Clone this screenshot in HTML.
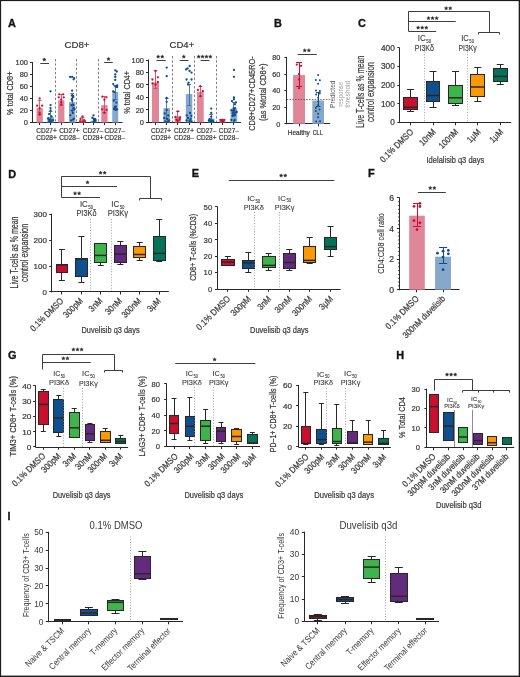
<!DOCTYPE html>
<html><head><meta charset="utf-8"><title>Figure</title>
<style>
html,body{margin:0;padding:0;background:#fff;}
body{width:520px;height:677px;overflow:hidden;}
svg{display:block;}
text{font-family:"Liberation Sans",sans-serif;fill:#3b3838;stroke:#3b3838;stroke-width:0.22px;}
svg{will-change:transform;}
</style></head>
<body>
<svg width="520" height="677" viewBox="0 0 520 677">
<rect width="520" height="677" fill="#fff"/>
<rect x="0" y="0" width="520" height="1.1" fill="#1c1a1a"/>
<rect x="0" y="0" width="1.1" height="677" fill="#1c1a1a"/>
<rect x="518.7" y="0" width="1.3" height="677" fill="#1c1a1a"/>
<rect x="0" y="675.6" width="520" height="1.4" fill="#1c1a1a"/>
<text x="7.9" y="27" font-size="10.9" font-weight="bold" style="fill:#151515;stroke:#151515;stroke-width:0.35px">A</text>
<text x="77" y="48.4" font-size="9.2" text-anchor="middle" textLength="25" lengthAdjust="spacingAndGlyphs">CD8+</text>
<line x1="32.5" y1="61.9" x2="32.5" y2="123" stroke="#2a2727" stroke-width="1" stroke-linecap="butt"/>
<line x1="30" y1="62.5" x2="32.2" y2="62.5" stroke="#2a2727" stroke-width="1" stroke-linecap="butt"/>
<text x="28" y="65.24" font-size="7.6" text-anchor="end" textLength="12.39" lengthAdjust="spacingAndGlyphs">100</text>
<line x1="30" y1="74.5" x2="32.2" y2="74.5" stroke="#2a2727" stroke-width="1" stroke-linecap="butt"/>
<text x="28" y="77.24" font-size="7.6" text-anchor="end" textLength="8.26" lengthAdjust="spacingAndGlyphs">80</text>
<line x1="30" y1="86.5" x2="32.2" y2="86.5" stroke="#2a2727" stroke-width="1" stroke-linecap="butt"/>
<text x="28" y="89.24" font-size="7.6" text-anchor="end" textLength="8.26" lengthAdjust="spacingAndGlyphs">60</text>
<line x1="30" y1="98.5" x2="32.2" y2="98.5" stroke="#2a2727" stroke-width="1" stroke-linecap="butt"/>
<text x="28" y="101.24" font-size="7.6" text-anchor="end" textLength="8.26" lengthAdjust="spacingAndGlyphs">40</text>
<line x1="30" y1="110.5" x2="32.2" y2="110.5" stroke="#2a2727" stroke-width="1" stroke-linecap="butt"/>
<text x="28" y="113.24" font-size="7.6" text-anchor="end" textLength="8.26" lengthAdjust="spacingAndGlyphs">20</text>
<line x1="30" y1="122.5" x2="32.2" y2="122.5" stroke="#2a2727" stroke-width="1" stroke-linecap="butt"/>
<text x="28" y="125.24" font-size="7.6" text-anchor="end" textLength="4.13" lengthAdjust="spacingAndGlyphs">0</text>
<text x="12.8" y="93.25" font-size="9.6" text-anchor="middle" transform="rotate(-90 12.8 93.25)" textLength="43.3" lengthAdjust="spacingAndGlyphs">% total CD8+</text>
<line x1="32.2" y1="122.5" x2="122.5" y2="122.5" stroke="#2a2727" stroke-width="1" stroke-linecap="butt"/>
<line x1="39.5" y1="122.5" x2="39.5" y2="125.1" stroke="#2a2727" stroke-width="1" stroke-linecap="butt"/>
<line x1="50.5" y1="122.5" x2="50.5" y2="125.1" stroke="#2a2727" stroke-width="1" stroke-linecap="butt"/>
<line x1="61.5" y1="122.5" x2="61.5" y2="125.1" stroke="#2a2727" stroke-width="1" stroke-linecap="butt"/>
<line x1="72.5" y1="122.5" x2="72.5" y2="125.1" stroke="#2a2727" stroke-width="1" stroke-linecap="butt"/>
<line x1="83.5" y1="122.5" x2="83.5" y2="125.1" stroke="#2a2727" stroke-width="1" stroke-linecap="butt"/>
<line x1="93.5" y1="122.5" x2="93.5" y2="125.1" stroke="#2a2727" stroke-width="1" stroke-linecap="butt"/>
<line x1="104.5" y1="122.5" x2="104.5" y2="125.1" stroke="#2a2727" stroke-width="1" stroke-linecap="butt"/>
<line x1="115.5" y1="122.5" x2="115.5" y2="125.1" stroke="#2a2727" stroke-width="1" stroke-linecap="butt"/>
<text x="181.9" y="48.4" font-size="9.2" text-anchor="middle" textLength="24.7" lengthAdjust="spacingAndGlyphs">CD4+</text>
<line x1="148.5" y1="59.5" x2="148.5" y2="122.8" stroke="#2a2727" stroke-width="1" stroke-linecap="butt"/>
<line x1="146" y1="60.5" x2="148.2" y2="60.5" stroke="#2a2727" stroke-width="1" stroke-linecap="butt"/>
<text x="144" y="62.74" font-size="7.6" text-anchor="end" textLength="12.39" lengthAdjust="spacingAndGlyphs">100</text>
<line x1="146" y1="72.5" x2="148.2" y2="72.5" stroke="#2a2727" stroke-width="1" stroke-linecap="butt"/>
<text x="144" y="75.2" font-size="7.6" text-anchor="end" textLength="8.26" lengthAdjust="spacingAndGlyphs">80</text>
<line x1="146" y1="84.5" x2="148.2" y2="84.5" stroke="#2a2727" stroke-width="1" stroke-linecap="butt"/>
<text x="144" y="87.66" font-size="7.6" text-anchor="end" textLength="8.26" lengthAdjust="spacingAndGlyphs">60</text>
<line x1="146" y1="97.5" x2="148.2" y2="97.5" stroke="#2a2727" stroke-width="1" stroke-linecap="butt"/>
<text x="144" y="100.12" font-size="7.6" text-anchor="end" textLength="8.26" lengthAdjust="spacingAndGlyphs">40</text>
<line x1="146" y1="109.5" x2="148.2" y2="109.5" stroke="#2a2727" stroke-width="1" stroke-linecap="butt"/>
<text x="144" y="112.58" font-size="7.6" text-anchor="end" textLength="8.26" lengthAdjust="spacingAndGlyphs">20</text>
<line x1="146" y1="122.5" x2="148.2" y2="122.5" stroke="#2a2727" stroke-width="1" stroke-linecap="butt"/>
<text x="144" y="125.04" font-size="7.6" text-anchor="end" textLength="4.13" lengthAdjust="spacingAndGlyphs">0</text>
<text x="129.9" y="92.3" font-size="9.6" text-anchor="middle" transform="rotate(-90 129.9 92.3)" textLength="42.8" lengthAdjust="spacingAndGlyphs">% total CD4+</text>
<line x1="148.2" y1="122.5" x2="241" y2="122.5" stroke="#2a2727" stroke-width="1" stroke-linecap="butt"/>
<line x1="155.5" y1="122.4" x2="155.5" y2="125" stroke="#2a2727" stroke-width="1" stroke-linecap="butt"/>
<line x1="166.5" y1="122.4" x2="166.5" y2="125" stroke="#2a2727" stroke-width="1" stroke-linecap="butt"/>
<line x1="177.5" y1="122.4" x2="177.5" y2="125" stroke="#2a2727" stroke-width="1" stroke-linecap="butt"/>
<line x1="189.5" y1="122.4" x2="189.5" y2="125" stroke="#2a2727" stroke-width="1" stroke-linecap="butt"/>
<line x1="200.5" y1="122.4" x2="200.5" y2="125" stroke="#2a2727" stroke-width="1" stroke-linecap="butt"/>
<line x1="211.5" y1="122.4" x2="211.5" y2="125" stroke="#2a2727" stroke-width="1" stroke-linecap="butt"/>
<line x1="222.5" y1="122.4" x2="222.5" y2="125" stroke="#2a2727" stroke-width="1" stroke-linecap="butt"/>
<line x1="233.5" y1="122.4" x2="233.5" y2="125" stroke="#2a2727" stroke-width="1" stroke-linecap="butt"/>
<rect x="36.5" y="108.1" width="6.3" height="14.4" fill="#e08699"/>
<line x1="39.5" y1="100.9" x2="39.5" y2="114.1" stroke="#d6485f" stroke-width="0.9" stroke-linecap="butt"/>
<line x1="37.75" y1="100.5" x2="41.55" y2="100.5" stroke="#d6485f" stroke-width="0.9" stroke-linecap="butt"/>
<line x1="37.75" y1="114.5" x2="41.55" y2="114.5" stroke="#d6485f" stroke-width="0.9" stroke-linecap="butt"/>
<circle cx="39.65" cy="98.5" r="1.15" fill="#c90f36"/>
<circle cx="37.15" cy="105.7" r="1.15" fill="#c90f36"/>
<circle cx="42.15" cy="105.7" r="1.15" fill="#c90f36"/>
<circle cx="39.65" cy="108.1" r="1.15" fill="#c90f36"/>
<circle cx="39.65" cy="112.9" r="1.15" fill="#c90f36"/>
<circle cx="39.65" cy="114.7" r="1.15" fill="#c90f36"/>
<rect x="47.3" y="117.1" width="6.5" height="5.4" fill="#86a8ca"/>
<line x1="50.5" y1="111.7" x2="50.5" y2="121.3" stroke="#3f6e9e" stroke-width="0.9" stroke-linecap="butt"/>
<line x1="48.65" y1="111.5" x2="52.45" y2="111.5" stroke="#3f6e9e" stroke-width="0.9" stroke-linecap="butt"/>
<line x1="48.65" y1="121.5" x2="52.45" y2="121.5" stroke="#3f6e9e" stroke-width="0.9" stroke-linecap="butt"/>
<circle cx="50.55" cy="91.3" r="1.15" fill="#0d4d8c"/>
<circle cx="50.55" cy="105.1" r="1.15" fill="#0d4d8c"/>
<circle cx="50.55" cy="108.1" r="1.15" fill="#0d4d8c"/>
<circle cx="50.55" cy="110.5" r="1.15" fill="#0d4d8c"/>
<circle cx="49.05" cy="114.1" r="1.15" fill="#0d4d8c"/>
<circle cx="51.55" cy="116.5" r="1.15" fill="#0d4d8c"/>
<circle cx="49.24" cy="119.89" r="1.15" fill="#0d4d8c"/>
<circle cx="49.9" cy="119.6" r="1.15" fill="#0d4d8c"/>
<circle cx="51.18" cy="122.19" r="1.15" fill="#0d4d8c"/>
<circle cx="48.12" cy="118.48" r="1.15" fill="#0d4d8c"/>
<circle cx="49.35" cy="121.38" r="1.15" fill="#0d4d8c"/>
<circle cx="53.03" cy="120.24" r="1.15" fill="#0d4d8c"/>
<circle cx="52.23" cy="120.21" r="1.15" fill="#0d4d8c"/>
<circle cx="51.25" cy="121.78" r="1.15" fill="#0d4d8c"/>
<rect x="58.1" y="100.3" width="6.3" height="22.2" fill="#e08699"/>
<line x1="61.5" y1="94.3" x2="61.5" y2="105.7" stroke="#d6485f" stroke-width="0.9" stroke-linecap="butt"/>
<line x1="59.35" y1="94.5" x2="63.15" y2="94.5" stroke="#d6485f" stroke-width="0.9" stroke-linecap="butt"/>
<line x1="59.35" y1="105.5" x2="63.15" y2="105.5" stroke="#d6485f" stroke-width="0.9" stroke-linecap="butt"/>
<circle cx="59.25" cy="94.3" r="1.15" fill="#c90f36"/>
<circle cx="63.25" cy="94.3" r="1.15" fill="#c90f36"/>
<circle cx="58.75" cy="97.3" r="1.15" fill="#c90f36"/>
<circle cx="63.75" cy="97.3" r="1.15" fill="#c90f36"/>
<circle cx="61.25" cy="99.7" r="1.15" fill="#c90f36"/>
<circle cx="61.25" cy="102.1" r="1.15" fill="#c90f36"/>
<circle cx="61.25" cy="104.5" r="1.15" fill="#c90f36"/>
<rect x="69" y="102.1" width="6.3" height="20.4" fill="#86a8ca"/>
<line x1="72.5" y1="93.1" x2="72.5" y2="110.5" stroke="#3f6e9e" stroke-width="0.9" stroke-linecap="butt"/>
<line x1="70.25" y1="93.5" x2="74.05" y2="93.5" stroke="#3f6e9e" stroke-width="0.9" stroke-linecap="butt"/>
<line x1="70.25" y1="110.5" x2="74.05" y2="110.5" stroke="#3f6e9e" stroke-width="0.9" stroke-linecap="butt"/>
<circle cx="70.15" cy="76.9" r="1.15" fill="#0d4d8c"/>
<circle cx="72.15" cy="76.9" r="1.15" fill="#0d4d8c"/>
<circle cx="74.15" cy="78.1" r="1.15" fill="#0d4d8c"/>
<circle cx="73.65" cy="79.3" r="1.15" fill="#0d4d8c"/>
<circle cx="72.15" cy="90.7" r="1.15" fill="#0d4d8c"/>
<circle cx="72.82" cy="97.34" r="1.15" fill="#0d4d8c"/>
<circle cx="72.27" cy="100.84" r="1.15" fill="#0d4d8c"/>
<circle cx="73.01" cy="119.53" r="1.15" fill="#0d4d8c"/>
<circle cx="73.44" cy="104.99" r="1.15" fill="#0d4d8c"/>
<circle cx="71.16" cy="120.44" r="1.15" fill="#0d4d8c"/>
<circle cx="73.98" cy="108.25" r="1.15" fill="#0d4d8c"/>
<circle cx="73.24" cy="97.04" r="1.15" fill="#0d4d8c"/>
<circle cx="73.22" cy="95.88" r="1.15" fill="#0d4d8c"/>
<circle cx="71.62" cy="99.19" r="1.15" fill="#0d4d8c"/>
<circle cx="71.87" cy="95.48" r="1.15" fill="#0d4d8c"/>
<circle cx="74.04" cy="118.61" r="1.15" fill="#0d4d8c"/>
<circle cx="70.33" cy="115.31" r="1.15" fill="#0d4d8c"/>
<circle cx="74.48" cy="109.26" r="1.15" fill="#0d4d8c"/>
<circle cx="72.78" cy="112.99" r="1.15" fill="#0d4d8c"/>
<circle cx="72.19" cy="110.65" r="1.15" fill="#0d4d8c"/>
<circle cx="71.4" cy="105.15" r="1.15" fill="#0d4d8c"/>
<rect x="79.4" y="120.1" width="6.3" height="2.4" fill="#e08699"/>
<line x1="82.5" y1="117.7" x2="82.5" y2="121.9" stroke="#d6485f" stroke-width="0.9" stroke-linecap="butt"/>
<line x1="80.65" y1="117.5" x2="84.45" y2="117.5" stroke="#d6485f" stroke-width="0.9" stroke-linecap="butt"/>
<line x1="80.65" y1="121.5" x2="84.45" y2="121.5" stroke="#d6485f" stroke-width="0.9" stroke-linecap="butt"/>
<circle cx="82.55" cy="116.5" r="1.15" fill="#c90f36"/>
<circle cx="80.55" cy="118.9" r="1.15" fill="#c90f36"/>
<circle cx="84.05" cy="120.1" r="1.15" fill="#c90f36"/>
<circle cx="80.05" cy="121.3" r="1.15" fill="#c90f36"/>
<circle cx="85.05" cy="121.3" r="1.15" fill="#c90f36"/>
<circle cx="82.55" cy="121.9" r="1.15" fill="#c90f36"/>
<rect x="90.5" y="120.7" width="6" height="1.8" fill="#86a8ca"/>
<line x1="93.5" y1="118.9" x2="93.5" y2="121.9" stroke="#3f6e9e" stroke-width="0.9" stroke-linecap="butt"/>
<line x1="91.6" y1="118.5" x2="95.4" y2="118.5" stroke="#3f6e9e" stroke-width="0.9" stroke-linecap="butt"/>
<line x1="91.6" y1="121.5" x2="95.4" y2="121.5" stroke="#3f6e9e" stroke-width="0.9" stroke-linecap="butt"/>
<circle cx="93.5" cy="115.3" r="1.15" fill="#0d4d8c"/>
<circle cx="92.5" cy="117.7" r="1.15" fill="#0d4d8c"/>
<circle cx="94.5" cy="118.9" r="1.15" fill="#0d4d8c"/>
<circle cx="93.92" cy="119.79" r="1.15" fill="#0d4d8c"/>
<circle cx="94.41" cy="119.71" r="1.15" fill="#0d4d8c"/>
<circle cx="95.28" cy="119.53" r="1.15" fill="#0d4d8c"/>
<circle cx="94.36" cy="122.01" r="1.15" fill="#0d4d8c"/>
<circle cx="95.3" cy="119.61" r="1.15" fill="#0d4d8c"/>
<circle cx="95.52" cy="120.79" r="1.15" fill="#0d4d8c"/>
<circle cx="94.57" cy="121.87" r="1.15" fill="#0d4d8c"/>
<circle cx="95.16" cy="120.78" r="1.15" fill="#0d4d8c"/>
<rect x="101.25" y="105.1" width="6.3" height="17.4" fill="#e08699"/>
<line x1="104.5" y1="96.7" x2="104.5" y2="112.3" stroke="#d6485f" stroke-width="0.9" stroke-linecap="butt"/>
<line x1="102.5" y1="96.5" x2="106.3" y2="96.5" stroke="#d6485f" stroke-width="0.9" stroke-linecap="butt"/>
<line x1="102.5" y1="112.5" x2="106.3" y2="112.5" stroke="#d6485f" stroke-width="0.9" stroke-linecap="butt"/>
<circle cx="102.4" cy="96.7" r="1.15" fill="#c90f36"/>
<circle cx="106.4" cy="97.3" r="1.15" fill="#c90f36"/>
<circle cx="104.4" cy="99.7" r="1.15" fill="#c90f36"/>
<circle cx="102.2" cy="109.3" r="1.15" fill="#c90f36"/>
<circle cx="106.6" cy="109.9" r="1.15" fill="#c90f36"/>
<circle cx="104.4" cy="112.9" r="1.15" fill="#c90f36"/>
<rect x="112.25" y="91.9" width="6" height="30.6" fill="#86a8ca"/>
<line x1="115.5" y1="85.3" x2="115.5" y2="99.7" stroke="#3f6e9e" stroke-width="0.9" stroke-linecap="butt"/>
<line x1="113.35" y1="85.5" x2="117.15" y2="85.5" stroke="#3f6e9e" stroke-width="0.9" stroke-linecap="butt"/>
<line x1="113.35" y1="99.5" x2="117.15" y2="99.5" stroke="#3f6e9e" stroke-width="0.9" stroke-linecap="butt"/>
<circle cx="115.25" cy="70.3" r="1.15" fill="#0d4d8c"/>
<circle cx="116.75" cy="71.5" r="1.15" fill="#0d4d8c"/>
<circle cx="115.25" cy="74.5" r="1.15" fill="#0d4d8c"/>
<circle cx="115.25" cy="76.9" r="1.15" fill="#0d4d8c"/>
<circle cx="115.25" cy="79.9" r="1.15" fill="#0d4d8c"/>
<circle cx="113.25" cy="84.1" r="1.15" fill="#0d4d8c"/>
<circle cx="117.25" cy="85.3" r="1.15" fill="#0d4d8c"/>
<circle cx="114.17" cy="108.98" r="1.15" fill="#0d4d8c"/>
<circle cx="117.02" cy="86.74" r="1.15" fill="#0d4d8c"/>
<circle cx="113.19" cy="91.29" r="1.15" fill="#0d4d8c"/>
<circle cx="114.8" cy="106.88" r="1.15" fill="#0d4d8c"/>
<circle cx="114.22" cy="92.05" r="1.15" fill="#0d4d8c"/>
<circle cx="117.11" cy="109.44" r="1.15" fill="#0d4d8c"/>
<circle cx="115.82" cy="109.42" r="1.15" fill="#0d4d8c"/>
<circle cx="116.34" cy="102.56" r="1.15" fill="#0d4d8c"/>
<circle cx="117.15" cy="86.96" r="1.15" fill="#0d4d8c"/>
<circle cx="115.28" cy="86.54" r="1.15" fill="#0d4d8c"/>
<circle cx="114.3" cy="108.65" r="1.15" fill="#0d4d8c"/>
<circle cx="115.75" cy="109.75" r="1.15" fill="#0d4d8c"/>
<circle cx="113.74" cy="100.71" r="1.15" fill="#0d4d8c"/>
<circle cx="115.8" cy="106.75" r="1.15" fill="#0d4d8c"/>
<line x1="55.5" y1="59" x2="55.5" y2="122" stroke="#6a6a6a" stroke-width="0.85" stroke-dasharray="2.4,1.9" stroke-linecap="butt"/>
<line x1="76.5" y1="59" x2="76.5" y2="122" stroke="#6a6a6a" stroke-width="0.85" stroke-dasharray="2.4,1.9" stroke-linecap="butt"/>
<line x1="98.5" y1="59" x2="98.5" y2="122" stroke="#6a6a6a" stroke-width="0.85" stroke-dasharray="2.4,1.9" stroke-linecap="butt"/>
<line x1="40.3" y1="63.5" x2="49" y2="63.5" stroke="#2a2727" stroke-width="0.9" stroke-linecap="butt"/>
<path d="M44.3 57.75L44.84 58.85L46.06 59.03L45.18 59.89L45.39 61.1L44.3 60.52L43.21 61.1L43.42 59.89L42.54 59.03L43.76 58.85Z" fill="#2e2b2b" stroke="#2e2b2b" stroke-width="0.35" stroke-linejoin="round"/>
<line x1="104.1" y1="62.5" x2="112.8" y2="62.5" stroke="#2a2727" stroke-width="0.9" stroke-linecap="butt"/>
<path d="M108.5 57.15L109.04 58.25L110.26 58.43L109.38 59.29L109.59 60.5L108.5 59.92L107.41 60.5L107.62 59.29L106.74 58.43L107.96 58.25Z" fill="#2e2b2b" stroke="#2e2b2b" stroke-width="0.35" stroke-linejoin="round"/>
<text x="46.5" y="132.8" font-size="6.9" text-anchor="middle" textLength="20.5" lengthAdjust="spacingAndGlyphs">CD27+</text>
<text x="46.5" y="140.4" font-size="6.9" text-anchor="middle" textLength="20.5" lengthAdjust="spacingAndGlyphs">CD28+</text>
<text x="69.4" y="132.8" font-size="6.9" text-anchor="middle" textLength="20.5" lengthAdjust="spacingAndGlyphs">CD27+</text>
<text x="69.4" y="140.4" font-size="6.9" text-anchor="middle" textLength="20.5" lengthAdjust="spacingAndGlyphs">CD28–</text>
<text x="93" y="132.8" font-size="6.9" text-anchor="middle" textLength="20.5" lengthAdjust="spacingAndGlyphs">CD27–</text>
<text x="93" y="140.4" font-size="6.9" text-anchor="middle" textLength="20.5" lengthAdjust="spacingAndGlyphs">CD28+</text>
<text x="114.8" y="132.8" font-size="6.9" text-anchor="middle" textLength="20.5" lengthAdjust="spacingAndGlyphs">CD27–</text>
<text x="114.8" y="140.4" font-size="6.9" text-anchor="middle" textLength="20.5" lengthAdjust="spacingAndGlyphs">CD28–</text>
<text x="161" y="132.8" font-size="6.9" text-anchor="middle" textLength="20" lengthAdjust="spacingAndGlyphs">CD27+</text>
<text x="161" y="140.2" font-size="6.9" text-anchor="middle" textLength="20" lengthAdjust="spacingAndGlyphs">CD28+</text>
<text x="183.9" y="132.8" font-size="6.9" text-anchor="middle" textLength="20" lengthAdjust="spacingAndGlyphs">CD27+</text>
<text x="183.9" y="140.2" font-size="6.9" text-anchor="middle" textLength="20" lengthAdjust="spacingAndGlyphs">CD28–</text>
<text x="206.4" y="132.8" font-size="6.9" text-anchor="middle" textLength="20" lengthAdjust="spacingAndGlyphs">CD27–</text>
<text x="206.4" y="140.2" font-size="6.9" text-anchor="middle" textLength="20" lengthAdjust="spacingAndGlyphs">CD28+</text>
<text x="228.8" y="132.8" font-size="6.9" text-anchor="middle" textLength="20" lengthAdjust="spacingAndGlyphs">CD27–</text>
<text x="228.8" y="140.2" font-size="6.9" text-anchor="middle" textLength="20" lengthAdjust="spacingAndGlyphs">CD28–</text>
<rect x="152" y="82.5" width="7" height="39.8" fill="#e08699"/>
<line x1="155.5" y1="70.4" x2="155.5" y2="88" stroke="#d6485f" stroke-width="0.9" stroke-linecap="butt"/>
<line x1="153.6" y1="70.5" x2="157.4" y2="70.5" stroke="#d6485f" stroke-width="0.9" stroke-linecap="butt"/>
<line x1="153.6" y1="88.5" x2="157.4" y2="88.5" stroke="#d6485f" stroke-width="0.9" stroke-linecap="butt"/>
<circle cx="155.5" cy="71" r="1.15" fill="#c90f36"/>
<circle cx="152.4" cy="79.5" r="1.15" fill="#c90f36"/>
<circle cx="157.9" cy="77.3" r="1.15" fill="#c90f36"/>
<circle cx="152.5" cy="83.5" r="1.15" fill="#c90f36"/>
<circle cx="157.9" cy="82" r="1.15" fill="#c90f36"/>
<circle cx="155.5" cy="84.5" r="1.15" fill="#c90f36"/>
<rect x="163.4" y="108.2" width="6.6" height="14.1" fill="#86a8ca"/>
<line x1="166.5" y1="98" x2="166.5" y2="118" stroke="#3f6e9e" stroke-width="0.9" stroke-linecap="butt"/>
<line x1="164.8" y1="98.5" x2="168.6" y2="98.5" stroke="#3f6e9e" stroke-width="0.9" stroke-linecap="butt"/>
<line x1="164.8" y1="118.5" x2="168.6" y2="118.5" stroke="#3f6e9e" stroke-width="0.9" stroke-linecap="butt"/>
<circle cx="166.7" cy="67.6" r="1.15" fill="#0d4d8c"/>
<circle cx="166.7" cy="76.2" r="1.15" fill="#0d4d8c"/>
<circle cx="166.7" cy="98" r="1.15" fill="#0d4d8c"/>
<circle cx="166.7" cy="101.8" r="1.15" fill="#0d4d8c"/>
<circle cx="164.7" cy="113.5" r="1.15" fill="#0d4d8c"/>
<circle cx="168.2" cy="115.5" r="1.15" fill="#0d4d8c"/>
<circle cx="164.2" cy="118" r="1.15" fill="#0d4d8c"/>
<circle cx="167.2" cy="119" r="1.15" fill="#0d4d8c"/>
<circle cx="169.2" cy="120.5" r="1.15" fill="#0d4d8c"/>
<circle cx="165.2" cy="121.3" r="1.15" fill="#0d4d8c"/>
<circle cx="167.7" cy="121.5" r="1.15" fill="#0d4d8c"/>
<circle cx="166.7" cy="110" r="1.15" fill="#0d4d8c"/>
<rect x="174.6" y="116.5" width="6.4" height="5.8" fill="#e08699"/>
<line x1="177.5" y1="111.3" x2="177.5" y2="120.5" stroke="#d6485f" stroke-width="0.9" stroke-linecap="butt"/>
<line x1="175.9" y1="111.5" x2="179.7" y2="111.5" stroke="#d6485f" stroke-width="0.9" stroke-linecap="butt"/>
<line x1="175.9" y1="120.5" x2="179.7" y2="120.5" stroke="#d6485f" stroke-width="0.9" stroke-linecap="butt"/>
<circle cx="177.8" cy="111.3" r="1.15" fill="#c90f36"/>
<circle cx="175.5" cy="117" r="1.15" fill="#c90f36"/>
<circle cx="180" cy="117.5" r="1.15" fill="#c90f36"/>
<circle cx="176.5" cy="119.8" r="1.15" fill="#c90f36"/>
<circle cx="179.5" cy="119.3" r="1.15" fill="#c90f36"/>
<circle cx="177.8" cy="121" r="1.15" fill="#c90f36"/>
<rect x="185.8" y="94" width="6.5" height="28.3" fill="#86a8ca"/>
<line x1="189.5" y1="84.3" x2="189.5" y2="105.8" stroke="#3f6e9e" stroke-width="0.9" stroke-linecap="butt"/>
<line x1="187.15" y1="84.5" x2="190.95" y2="84.5" stroke="#3f6e9e" stroke-width="0.9" stroke-linecap="butt"/>
<line x1="187.15" y1="105.5" x2="190.95" y2="105.5" stroke="#3f6e9e" stroke-width="0.9" stroke-linecap="butt"/>
<circle cx="189.65" cy="66" r="1.15" fill="#0d4d8c"/>
<circle cx="187.55" cy="68.5" r="1.15" fill="#0d4d8c"/>
<circle cx="186.05" cy="69.4" r="1.15" fill="#0d4d8c"/>
<circle cx="189.55" cy="71" r="1.15" fill="#0d4d8c"/>
<circle cx="191.55" cy="72.6" r="1.15" fill="#0d4d8c"/>
<circle cx="186.55" cy="79.5" r="1.15" fill="#0d4d8c"/>
<circle cx="191.55" cy="79.5" r="1.15" fill="#0d4d8c"/>
<circle cx="188.55" cy="82.7" r="1.15" fill="#0d4d8c"/>
<circle cx="188.05" cy="84.5" r="1.15" fill="#0d4d8c"/>
<circle cx="190.05" cy="113" r="1.15" fill="#0d4d8c"/>
<circle cx="186.75" cy="115.5" r="1.15" fill="#0d4d8c"/>
<circle cx="191.35" cy="116" r="1.15" fill="#0d4d8c"/>
<circle cx="188.05" cy="118" r="1.15" fill="#0d4d8c"/>
<circle cx="190.55" cy="119" r="1.15" fill="#0d4d8c"/>
<circle cx="186.55" cy="120.5" r="1.15" fill="#0d4d8c"/>
<circle cx="189.55" cy="121" r="1.15" fill="#0d4d8c"/>
<circle cx="191.55" cy="121.3" r="1.15" fill="#0d4d8c"/>
<rect x="197" y="91.77" width="6.7" height="30.53" fill="#e08699"/>
<line x1="200.5" y1="86.17" x2="200.5" y2="96.13" stroke="#d6485f" stroke-width="0.9" stroke-linecap="butt"/>
<line x1="198.45" y1="86.5" x2="202.25" y2="86.5" stroke="#d6485f" stroke-width="0.9" stroke-linecap="butt"/>
<line x1="198.45" y1="96.5" x2="202.25" y2="96.5" stroke="#d6485f" stroke-width="0.9" stroke-linecap="butt"/>
<circle cx="200.35" cy="86.17" r="1.15" fill="#c90f36"/>
<circle cx="197.85" cy="89.9" r="1.15" fill="#c90f36"/>
<circle cx="202.85" cy="91.15" r="1.15" fill="#c90f36"/>
<circle cx="200.35" cy="96.13" r="1.15" fill="#c90f36"/>
<rect x="208" y="118.56" width="6.4" height="3.74" fill="#86a8ca"/>
<line x1="211.5" y1="114.82" x2="211.5" y2="121.68" stroke="#3f6e9e" stroke-width="0.9" stroke-linecap="butt"/>
<line x1="209.3" y1="114.5" x2="213.1" y2="114.5" stroke="#3f6e9e" stroke-width="0.9" stroke-linecap="butt"/>
<line x1="209.3" y1="121.5" x2="213.1" y2="121.5" stroke="#3f6e9e" stroke-width="0.9" stroke-linecap="butt"/>
<circle cx="211.2" cy="108.59" r="1.15" fill="#0d4d8c"/>
<circle cx="211.2" cy="112.95" r="1.15" fill="#0d4d8c"/>
<circle cx="211.2" cy="116.69" r="1.15" fill="#0d4d8c"/>
<circle cx="209.7" cy="119.19" r="1.15" fill="#0d4d8c"/>
<circle cx="212.7" cy="120.43" r="1.15" fill="#0d4d8c"/>
<circle cx="208.91" cy="120.68" r="1.15" fill="#0d4d8c"/>
<circle cx="210.27" cy="120.51" r="1.15" fill="#0d4d8c"/>
<circle cx="213.18" cy="121.59" r="1.15" fill="#0d4d8c"/>
<circle cx="211" cy="121.33" r="1.15" fill="#0d4d8c"/>
<circle cx="211.92" cy="121.19" r="1.15" fill="#0d4d8c"/>
<rect x="219.2" y="120.43" width="6.3" height="1.87" fill="#e08699"/>
<line x1="222.5" y1="119.19" x2="222.5" y2="121.68" stroke="#d6485f" stroke-width="0.9" stroke-linecap="butt"/>
<line x1="220.45" y1="119.5" x2="224.25" y2="119.5" stroke="#d6485f" stroke-width="0.9" stroke-linecap="butt"/>
<line x1="220.45" y1="121.5" x2="224.25" y2="121.5" stroke="#d6485f" stroke-width="0.9" stroke-linecap="butt"/>
<circle cx="220.35" cy="119.81" r="1.15" fill="#c90f36"/>
<circle cx="222.35" cy="119.81" r="1.15" fill="#c90f36"/>
<circle cx="224.35" cy="119.81" r="1.15" fill="#c90f36"/>
<circle cx="221.35" cy="121.05" r="1.15" fill="#c90f36"/>
<circle cx="223.35" cy="121.05" r="1.15" fill="#c90f36"/>
<rect x="230.6" y="108.59" width="6.7" height="13.71" fill="#86a8ca"/>
<line x1="233.5" y1="102.36" x2="233.5" y2="114.82" stroke="#3f6e9e" stroke-width="0.9" stroke-linecap="butt"/>
<line x1="232.05" y1="102.5" x2="235.85" y2="102.5" stroke="#3f6e9e" stroke-width="0.9" stroke-linecap="butt"/>
<line x1="232.05" y1="114.5" x2="235.85" y2="114.5" stroke="#3f6e9e" stroke-width="0.9" stroke-linecap="butt"/>
<circle cx="233.95" cy="69.97" r="1.15" fill="#0d4d8c"/>
<circle cx="233.95" cy="76.82" r="1.15" fill="#0d4d8c"/>
<circle cx="233.95" cy="97.38" r="1.15" fill="#0d4d8c"/>
<circle cx="233.95" cy="99.25" r="1.15" fill="#0d4d8c"/>
<circle cx="231.95" cy="101.12" r="1.15" fill="#0d4d8c"/>
<circle cx="235.95" cy="102.36" r="1.15" fill="#0d4d8c"/>
<circle cx="234.27" cy="110.24" r="1.15" fill="#0d4d8c"/>
<circle cx="236.33" cy="112.21" r="1.15" fill="#0d4d8c"/>
<circle cx="233.58" cy="108.49" r="1.15" fill="#0d4d8c"/>
<circle cx="232.53" cy="115.8" r="1.15" fill="#0d4d8c"/>
<circle cx="236.53" cy="111.96" r="1.15" fill="#0d4d8c"/>
<circle cx="234.21" cy="120.85" r="1.15" fill="#0d4d8c"/>
<circle cx="233.49" cy="110.94" r="1.15" fill="#0d4d8c"/>
<circle cx="231.36" cy="110.31" r="1.15" fill="#0d4d8c"/>
<circle cx="234.66" cy="120.01" r="1.15" fill="#0d4d8c"/>
<circle cx="234.64" cy="112.92" r="1.15" fill="#0d4d8c"/>
<circle cx="234.92" cy="114.9" r="1.15" fill="#0d4d8c"/>
<circle cx="235.07" cy="108.18" r="1.15" fill="#0d4d8c"/>
<circle cx="231.37" cy="120" r="1.15" fill="#0d4d8c"/>
<circle cx="234.9" cy="104.25" r="1.15" fill="#0d4d8c"/>
<circle cx="232.61" cy="113.09" r="1.15" fill="#0d4d8c"/>
<circle cx="234.45" cy="115.47" r="1.15" fill="#0d4d8c"/>
<circle cx="233.22" cy="115.6" r="1.15" fill="#0d4d8c"/>
<circle cx="233.24" cy="110.66" r="1.15" fill="#0d4d8c"/>
<line x1="172.5" y1="56" x2="172.5" y2="122" stroke="#6a6a6a" stroke-width="0.85" stroke-dasharray="2.4,1.9" stroke-linecap="butt"/>
<line x1="194.5" y1="56" x2="194.5" y2="122" stroke="#6a6a6a" stroke-width="0.85" stroke-dasharray="2.4,1.9" stroke-linecap="butt"/>
<line x1="216.5" y1="56" x2="216.5" y2="122" stroke="#6a6a6a" stroke-width="0.85" stroke-dasharray="2.4,1.9" stroke-linecap="butt"/>
<line x1="156.5" y1="60.5" x2="165.7" y2="60.5" stroke="#2a2727" stroke-width="0.9" stroke-linecap="butt"/>
<path d="M158.15 54.85L158.69 55.95L159.91 56.13L159.03 56.99L159.24 58.2L158.15 57.62L157.06 58.2L157.27 56.99L156.39 56.13L157.61 55.95ZM162.25 54.85L162.79 55.95L164.01 56.13L163.13 56.99L163.34 58.2L162.25 57.62L161.16 58.2L161.37 56.99L160.49 56.13L161.71 55.95Z" fill="#2e2b2b" stroke="#2e2b2b" stroke-width="0.35" stroke-linejoin="round"/>
<line x1="179.7" y1="60.5" x2="188.5" y2="60.5" stroke="#2a2727" stroke-width="0.9" stroke-linecap="butt"/>
<path d="M183.8 54.85L184.34 55.95L185.56 56.13L184.68 56.99L184.89 58.2L183.8 57.62L182.71 58.2L182.92 56.99L182.04 56.13L183.26 55.95Z" fill="#2e2b2b" stroke="#2e2b2b" stroke-width="0.35" stroke-linejoin="round"/>
<line x1="200.6" y1="60.5" x2="209.5" y2="60.5" stroke="#2a2727" stroke-width="0.9" stroke-linecap="butt"/>
<path d="M198.65 54.85L199.19 55.95L200.41 56.13L199.53 56.99L199.74 58.2L198.65 57.62L197.56 58.2L197.77 56.99L196.89 56.13L198.11 55.95ZM202.55 54.85L203.09 55.95L204.31 56.13L203.43 56.99L203.64 58.2L202.55 57.62L201.46 58.2L201.67 56.99L200.79 56.13L202.01 55.95ZM206.45 54.85L206.99 55.95L208.21 56.13L207.33 56.99L207.54 58.2L206.45 57.62L205.36 58.2L205.57 56.99L204.69 56.13L205.91 55.95ZM210.35 54.85L210.89 55.95L212.11 56.13L211.23 56.99L211.44 58.2L210.35 57.62L209.26 58.2L209.47 56.99L208.59 56.13L209.81 55.95Z" fill="#2e2b2b" stroke="#2e2b2b" stroke-width="0.35" stroke-linejoin="round"/>
<text x="273.9" y="26.9" font-size="10.9" font-weight="bold" style="fill:#151515;stroke:#151515;stroke-width:0.35px">B</text>
<line x1="286.5" y1="56.9" x2="286.5" y2="124.3" stroke="#2a2727" stroke-width="1" stroke-linecap="butt"/>
<line x1="284.4" y1="57.5" x2="286.6" y2="57.5" stroke="#2a2727" stroke-width="1" stroke-linecap="butt"/>
<text x="280.3" y="60.14" font-size="7.6" text-anchor="end" textLength="8.1" lengthAdjust="spacingAndGlyphs">80</text>
<line x1="284.4" y1="74.5" x2="286.6" y2="74.5" stroke="#2a2727" stroke-width="1" stroke-linecap="butt"/>
<text x="280.3" y="76.74" font-size="7.6" text-anchor="end" textLength="8.1" lengthAdjust="spacingAndGlyphs">60</text>
<line x1="284.4" y1="90.5" x2="286.6" y2="90.5" stroke="#2a2727" stroke-width="1" stroke-linecap="butt"/>
<text x="280.3" y="93.34" font-size="7.6" text-anchor="end" textLength="8.1" lengthAdjust="spacingAndGlyphs">40</text>
<line x1="284.4" y1="107.5" x2="286.6" y2="107.5" stroke="#2a2727" stroke-width="1" stroke-linecap="butt"/>
<text x="280.3" y="109.94" font-size="7.6" text-anchor="end" textLength="8.1" lengthAdjust="spacingAndGlyphs">20</text>
<line x1="284.4" y1="123.5" x2="286.6" y2="123.5" stroke="#2a2727" stroke-width="1" stroke-linecap="butt"/>
<text x="280.3" y="126.54" font-size="7.6" text-anchor="end" textLength="4.05" lengthAdjust="spacingAndGlyphs">0</text>
<text x="255.3" y="93.5" font-size="9.5" text-anchor="middle" transform="rotate(-90 255.3 93.5)" textLength="74.4" lengthAdjust="spacingAndGlyphs">CD8+CD27+CD45RO-</text>
<text x="266" y="92.2" font-size="9.5" text-anchor="middle" transform="rotate(-90 266 92.2)" textLength="57.5" lengthAdjust="spacingAndGlyphs">(as %total CD8+)</text>
<line x1="286.6" y1="123.5" x2="330.2" y2="123.5" stroke="#2a2727" stroke-width="1" stroke-linecap="butt"/>
<line x1="299.5" y1="123.8" x2="299.5" y2="126.4" stroke="#2a2727" stroke-width="1" stroke-linecap="butt"/>
<line x1="318.5" y1="123.8" x2="318.5" y2="126.4" stroke="#2a2727" stroke-width="1" stroke-linecap="butt"/>
<rect x="293.1" y="75.08" width="11.9" height="48.72" fill="#e08699"/>
<line x1="299.5" y1="62.2" x2="299.5" y2="86.3" stroke="#c90f36" stroke-width="1.1" stroke-linecap="butt"/>
<line x1="296.05" y1="62.5" x2="302.05" y2="62.5" stroke="#c90f36" stroke-width="1.1" stroke-linecap="butt"/>
<line x1="296.05" y1="86.5" x2="302.05" y2="86.5" stroke="#c90f36" stroke-width="1.1" stroke-linecap="butt"/>
<circle cx="296.85" cy="64.6" r="1.15" fill="#c90f36"/>
<circle cx="301.05" cy="65.8" r="1.15" fill="#c90f36"/>
<circle cx="299.05" cy="74.2" r="1.15" fill="#c90f36"/>
<circle cx="299.05" cy="79.5" r="1.15" fill="#c90f36"/>
<circle cx="299.05" cy="88.2" r="1.15" fill="#c90f36"/>
<rect x="312.3" y="100.5" width="11.7" height="23.3" fill="#86a8ca"/>
<line x1="318.5" y1="92.7" x2="318.5" y2="106.9" stroke="#0d4d8c" stroke-width="1" stroke-linecap="butt"/>
<line x1="315.85" y1="92.5" x2="320.45" y2="92.5" stroke="#0d4d8c" stroke-width="1" stroke-linecap="butt"/>
<line x1="315.85" y1="106.5" x2="320.45" y2="106.5" stroke="#0d4d8c" stroke-width="1" stroke-linecap="butt"/>
<circle cx="318.15" cy="75" r="1" fill="#0d4d8c"/>
<circle cx="315.85" cy="80" r="1" fill="#0d4d8c"/>
<circle cx="319.85" cy="80.2" r="1" fill="#0d4d8c"/>
<circle cx="318.15" cy="83.8" r="1" fill="#0d4d8c"/>
<circle cx="315.95" cy="90.4" r="1" fill="#0d4d8c"/>
<circle cx="319.85" cy="91.1" r="1" fill="#0d4d8c"/>
<circle cx="316.15" cy="94.4" r="1" fill="#0d4d8c"/>
<circle cx="319.75" cy="93.5" r="1" fill="#0d4d8c"/>
<circle cx="318.15" cy="97.8" r="1" fill="#0d4d8c"/>
<circle cx="318.15" cy="101.4" r="1" fill="#0d4d8c"/>
<circle cx="318.15" cy="104.9" r="1" fill="#0d4d8c"/>
<circle cx="315.85" cy="107.9" r="1" fill="#0d4d8c"/>
<circle cx="319.55" cy="109.6" r="1" fill="#0d4d8c"/>
<circle cx="315.85" cy="111" r="1" fill="#0d4d8c"/>
<circle cx="318.15" cy="113.8" r="1" fill="#0d4d8c"/>
<circle cx="318.15" cy="117.3" r="1" fill="#0d4d8c"/>
<circle cx="316.15" cy="121.5" r="1" fill="#0d4d8c"/>
<circle cx="320.05" cy="121.2" r="1" fill="#0d4d8c"/>
<line x1="286.6" y1="99.5" x2="331" y2="99.5" stroke="#444" stroke-width="0.7" stroke-dasharray="1.6,1.2" stroke-linecap="butt"/>
<line x1="297.6" y1="54.5" x2="316.8" y2="54.5" stroke="#2a2727" stroke-width="0.9" stroke-linecap="butt"/>
<path d="M304.75 48.55L305.29 49.65L306.51 49.83L305.63 50.69L305.84 51.9L304.75 51.32L303.66 51.9L303.87 50.69L302.99 49.83L304.21 49.65ZM308.85 48.55L309.39 49.65L310.61 49.83L309.73 50.69L309.94 51.9L308.85 51.32L307.76 51.9L307.97 50.69L307.09 49.83L308.31 49.65Z" fill="#2e2b2b" stroke="#2e2b2b" stroke-width="0.35" stroke-linejoin="round"/>
<text x="298.8" y="135.2" font-size="6.6" text-anchor="middle" textLength="22" lengthAdjust="spacingAndGlyphs">Healthy</text>
<text x="317.7" y="135.2" font-size="6.6" text-anchor="middle" textLength="10" lengthAdjust="spacingAndGlyphs">CLL</text>
<text x="335.4" y="94.3" font-size="7.4" text-anchor="middle" transform="rotate(-90 335.4 94.3)" textLength="27.2" lengthAdjust="spacingAndGlyphs" style="fill:#555;stroke:none">Predicted</text>
<text x="343" y="94.3" font-size="6.6" text-anchor="middle" transform="rotate(-90 343 94.3)" textLength="25" lengthAdjust="spacingAndGlyphs" style="fill:#a0a0a0;stroke:none">response</text>
<text x="349.8" y="94.3" font-size="6.6" text-anchor="middle" transform="rotate(-90 349.8 94.3)" textLength="27" lengthAdjust="spacingAndGlyphs" style="fill:#a0a0a0;stroke:none">threshold</text>
<text x="357.9" y="27" font-size="10.9" font-weight="bold" style="fill:#151515;stroke:#151515;stroke-width:0.35px">C</text>
<line x1="399.5" y1="47.9" x2="399.5" y2="122.9" stroke="#2a2727" stroke-width="1" stroke-linecap="butt"/>
<line x1="397.3" y1="47.5" x2="399.7" y2="47.5" stroke="#2a2727" stroke-width="1" stroke-linecap="butt"/>
<text x="394.83" y="50.83" font-size="8.2" text-anchor="end" textLength="13.8" lengthAdjust="spacingAndGlyphs">400</text>
<line x1="397.3" y1="66.5" x2="399.7" y2="66.5" stroke="#2a2727" stroke-width="1" stroke-linecap="butt"/>
<text x="394.83" y="69.46" font-size="8.2" text-anchor="end" textLength="13.8" lengthAdjust="spacingAndGlyphs">300</text>
<line x1="397.3" y1="85.5" x2="399.7" y2="85.5" stroke="#2a2727" stroke-width="1" stroke-linecap="butt"/>
<text x="394.83" y="88.09" font-size="8.2" text-anchor="end" textLength="13.8" lengthAdjust="spacingAndGlyphs">200</text>
<line x1="397.3" y1="103.5" x2="399.7" y2="103.5" stroke="#2a2727" stroke-width="1" stroke-linecap="butt"/>
<text x="394.83" y="106.72" font-size="8.2" text-anchor="end" textLength="13.8" lengthAdjust="spacingAndGlyphs">100</text>
<line x1="397.3" y1="122.5" x2="399.7" y2="122.5" stroke="#2a2727" stroke-width="1" stroke-linecap="butt"/>
<text x="394.83" y="125.35" font-size="8.2" text-anchor="end" textLength="4.6" lengthAdjust="spacingAndGlyphs">0</text>
<text x="364.3" y="91.8" font-size="10.1" text-anchor="middle" transform="rotate(-90 364.3 91.8)" textLength="72" lengthAdjust="spacingAndGlyphs">Live T-cells as % mean</text>
<text x="374.2" y="92" font-size="10.1" text-anchor="middle" transform="rotate(-90 374.2 92)" textLength="60" lengthAdjust="spacingAndGlyphs">control expansion</text>
<line x1="399.7" y1="122.5" x2="511.2" y2="122.5" stroke="#2a2727" stroke-width="1" stroke-linecap="butt"/>
<line x1="410.5" y1="122.5" x2="410.5" y2="125.3" stroke="#2a2727" stroke-width="1" stroke-linecap="butt"/>
<line x1="433.5" y1="122.5" x2="433.5" y2="125.3" stroke="#2a2727" stroke-width="1" stroke-linecap="butt"/>
<line x1="455.5" y1="122.5" x2="455.5" y2="125.3" stroke="#2a2727" stroke-width="1" stroke-linecap="butt"/>
<line x1="477.5" y1="122.5" x2="477.5" y2="125.3" stroke="#2a2727" stroke-width="1" stroke-linecap="butt"/>
<line x1="500.5" y1="122.5" x2="500.5" y2="125.3" stroke="#2a2727" stroke-width="1" stroke-linecap="butt"/>
<line x1="410.5" y1="89.2" x2="410.5" y2="97.3" stroke="#2a2727" stroke-width="1.05" stroke-linecap="butt"/>
<line x1="407.1" y1="89.5" x2="414.1" y2="89.5" stroke="#2a2727" stroke-width="1.05" stroke-linecap="butt"/>
<line x1="410.5" y1="109.2" x2="410.5" y2="111.5" stroke="#2a2727" stroke-width="1.05" stroke-linecap="butt"/>
<line x1="407.1" y1="111.5" x2="414.1" y2="111.5" stroke="#2a2727" stroke-width="1.05" stroke-linecap="butt"/>
<rect x="403.5" y="97.5" width="14" height="12" fill="#c8102e" stroke="#2a2727" stroke-width="1.05"/>
<line x1="403.45" y1="107.3" x2="417.75" y2="107.3" stroke="#2a2727" stroke-width="1.5" stroke-linecap="butt"/>
<line x1="433.5" y1="71.6" x2="433.5" y2="81.2" stroke="#2a2727" stroke-width="1.05" stroke-linecap="butt"/>
<line x1="429.5" y1="71.5" x2="436.5" y2="71.5" stroke="#2a2727" stroke-width="1.05" stroke-linecap="butt"/>
<line x1="433.5" y1="101.6" x2="433.5" y2="107" stroke="#2a2727" stroke-width="1.05" stroke-linecap="butt"/>
<line x1="429.5" y1="107.5" x2="436.5" y2="107.5" stroke="#2a2727" stroke-width="1.05" stroke-linecap="butt"/>
<rect x="426.5" y="81.5" width="13" height="20" fill="#10508e" stroke="#2a2727" stroke-width="1.05"/>
<line x1="426.15" y1="95.5" x2="439.85" y2="95.5" stroke="#2a2727" stroke-width="1.5" stroke-linecap="butt"/>
<line x1="455.5" y1="71.6" x2="455.5" y2="85.8" stroke="#2a2727" stroke-width="1.05" stroke-linecap="butt"/>
<line x1="452" y1="71.5" x2="459" y2="71.5" stroke="#2a2727" stroke-width="1.05" stroke-linecap="butt"/>
<line x1="455.5" y1="103.9" x2="455.5" y2="105.5" stroke="#2a2727" stroke-width="1.05" stroke-linecap="butt"/>
<line x1="452" y1="105.5" x2="459" y2="105.5" stroke="#2a2727" stroke-width="1.05" stroke-linecap="butt"/>
<rect x="448.5" y="85.5" width="14" height="18" fill="#3db54a" stroke="#2a2727" stroke-width="1.05"/>
<line x1="448.35" y1="97.8" x2="462.65" y2="97.8" stroke="#2a2727" stroke-width="1.5" stroke-linecap="butt"/>
<line x1="477.5" y1="67.5" x2="477.5" y2="74.5" stroke="#2a2727" stroke-width="1.05" stroke-linecap="butt"/>
<line x1="474.3" y1="67.5" x2="481.3" y2="67.5" stroke="#2a2727" stroke-width="1.05" stroke-linecap="butt"/>
<line x1="477.5" y1="96.4" x2="477.5" y2="101" stroke="#2a2727" stroke-width="1.05" stroke-linecap="butt"/>
<line x1="474.3" y1="101.5" x2="481.3" y2="101.5" stroke="#2a2727" stroke-width="1.05" stroke-linecap="butt"/>
<rect x="470.5" y="74.5" width="14" height="22" fill="#fc9a05" stroke="#2a2727" stroke-width="1.05"/>
<line x1="470.9" y1="87" x2="484.7" y2="87" stroke="#2a2727" stroke-width="1.5" stroke-linecap="butt"/>
<line x1="500.5" y1="64.2" x2="500.5" y2="68.3" stroke="#2a2727" stroke-width="1.05" stroke-linecap="butt"/>
<line x1="496.7" y1="64.5" x2="503.7" y2="64.5" stroke="#2a2727" stroke-width="1.05" stroke-linecap="butt"/>
<line x1="500.5" y1="81.8" x2="500.5" y2="84.2" stroke="#2a2727" stroke-width="1.05" stroke-linecap="butt"/>
<line x1="496.7" y1="84.5" x2="503.7" y2="84.5" stroke="#2a2727" stroke-width="1.05" stroke-linecap="butt"/>
<rect x="493.5" y="68.5" width="14" height="13" fill="#05735a" stroke="#2a2727" stroke-width="1.05"/>
<line x1="493.35" y1="76.4" x2="507.05" y2="76.4" stroke="#2a2727" stroke-width="1.5" stroke-linecap="butt"/>
<line x1="424.5" y1="51.5" x2="424.5" y2="122" stroke="#8a8a8a" stroke-width="0.8" stroke-dasharray="1,1.75" stroke-linecap="butt"/>
<line x1="467.5" y1="51.5" x2="467.5" y2="122" stroke="#8a8a8a" stroke-width="0.8" stroke-dasharray="1,1.75" stroke-linecap="butt"/>
<text x="417.75" y="41.2" font-size="8.2" textLength="7.98" lengthAdjust="spacingAndGlyphs" style="stroke-width:0.1px">IC</text>
<text x="426.23" y="43.1" font-size="5.25" textLength="4.82" lengthAdjust="spacingAndGlyphs" style="stroke-width:0.1px">50</text>
<text x="424.4" y="50.5" font-size="8.2" text-anchor="middle" textLength="19.4" lengthAdjust="spacingAndGlyphs" style="stroke-width:0.1px">PI3Kδ</text>
<text x="461.25" y="41.2" font-size="8.2" textLength="7.62" lengthAdjust="spacingAndGlyphs" style="stroke-width:0.1px">IC</text>
<text x="469.37" y="43.1" font-size="5.25" textLength="4.58" lengthAdjust="spacingAndGlyphs" style="stroke-width:0.1px">50</text>
<text x="467.6" y="50.5" font-size="8.2" text-anchor="middle" textLength="18.4" lengthAdjust="spacingAndGlyphs" style="stroke-width:0.1px">PI3Kγ</text>
<polyline points="408.5,31.5 408.5,11.5 489.5,11.5 489.5,32.5" fill="none" stroke="#2a2727" stroke-width="0.9"/>
<line x1="408.7" y1="21.5" x2="455.7" y2="21.5" stroke="#2a2727" stroke-width="0.9" stroke-linecap="butt"/>
<line x1="408.7" y1="31.5" x2="436.2" y2="31.5" stroke="#2a2727" stroke-width="0.9" stroke-linecap="butt"/>
<polyline points="478.5,34.5 478.5,32.5 499.5,32.5 499.5,34.5" fill="none" stroke="#2a2727" stroke-width="0.9"/>
<path d="M446.15 6.45L446.69 7.55L447.91 7.73L447.03 8.59L447.24 9.8L446.15 9.23L445.06 9.8L445.27 8.59L444.39 7.73L445.61 7.55ZM450.25 6.45L450.79 7.55L452.01 7.73L451.13 8.59L451.34 9.8L450.25 9.23L449.16 9.8L449.37 8.59L448.49 7.73L449.71 7.55Z" fill="#2e2b2b" stroke="#2e2b2b" stroke-width="0.35" stroke-linejoin="round"/>
<path d="M428.5 16.35L429.04 17.45L430.26 17.63L429.38 18.49L429.59 19.7L428.5 19.12L427.41 19.7L427.62 18.49L426.74 17.63L427.96 17.45ZM432.6 16.35L433.14 17.45L434.36 17.63L433.48 18.49L433.69 19.7L432.6 19.12L431.51 19.7L431.72 18.49L430.84 17.63L432.06 17.45ZM436.7 16.35L437.24 17.45L438.46 17.63L437.58 18.49L437.79 19.7L436.7 19.12L435.61 19.7L435.82 18.49L434.94 17.63L436.16 17.45Z" fill="#2e2b2b" stroke="#2e2b2b" stroke-width="0.35" stroke-linejoin="round"/>
<path d="M418.1 25.85L418.64 26.95L419.86 27.13L418.98 27.99L419.19 29.2L418.1 28.62L417.01 29.2L417.22 27.99L416.34 27.13L417.56 26.95ZM422.2 25.85L422.74 26.95L423.96 27.13L423.08 27.99L423.29 29.2L422.2 28.62L421.11 29.2L421.32 27.99L420.44 27.13L421.66 26.95ZM426.3 25.85L426.84 26.95L428.06 27.13L427.18 27.99L427.39 29.2L426.3 28.62L425.21 29.2L425.42 27.99L424.54 27.13L425.76 26.95Z" fill="#2e2b2b" stroke="#2e2b2b" stroke-width="0.35" stroke-linejoin="round"/>
<text x="413.9" y="132.5" font-size="9" text-anchor="end" transform="rotate(-45 413.9 132.5)" textLength="43.01" lengthAdjust="spacingAndGlyphs">0.1% DMSO</text>
<text x="436.4" y="132.5" font-size="9" text-anchor="end" transform="rotate(-45 436.4 132.5)" textLength="19.36" lengthAdjust="spacingAndGlyphs">10nM</text>
<text x="458.9" y="132.5" font-size="9" text-anchor="end" transform="rotate(-45 458.9 132.5)" textLength="23.66" lengthAdjust="spacingAndGlyphs">100nM</text>
<text x="481.3" y="132.5" font-size="9" text-anchor="end" transform="rotate(-45 481.3 132.5)" textLength="15.21" lengthAdjust="spacingAndGlyphs">1μM</text>
<text x="503.8" y="132.5" font-size="9" text-anchor="end" transform="rotate(-45 503.8 132.5)" textLength="15.21" lengthAdjust="spacingAndGlyphs">1μM</text>
<text x="455.4" y="162.5" font-size="9" text-anchor="middle" textLength="57.8" lengthAdjust="spacingAndGlyphs">Idelalisib q3 days</text>
<text x="8.3" y="177.8" font-size="10.9" font-weight="bold" style="fill:#151515;stroke:#151515;stroke-width:0.35px">D</text>
<line x1="51.5" y1="213.8" x2="51.5" y2="292.4" stroke="#2a2727" stroke-width="1" stroke-linecap="butt"/>
<line x1="49.2" y1="214.5" x2="51.6" y2="214.5" stroke="#2a2727" stroke-width="1" stroke-linecap="butt"/>
<text x="46.92" y="217.08" font-size="8" text-anchor="end" textLength="13.35" lengthAdjust="spacingAndGlyphs">300</text>
<line x1="49.2" y1="240.5" x2="51.6" y2="240.5" stroke="#2a2727" stroke-width="1" stroke-linecap="butt"/>
<text x="46.92" y="242.98" font-size="8" text-anchor="end" textLength="13.35" lengthAdjust="spacingAndGlyphs">200</text>
<line x1="49.2" y1="266.5" x2="51.6" y2="266.5" stroke="#2a2727" stroke-width="1" stroke-linecap="butt"/>
<text x="46.92" y="268.88" font-size="8" text-anchor="end" textLength="13.35" lengthAdjust="spacingAndGlyphs">100</text>
<line x1="49.2" y1="291.5" x2="51.6" y2="291.5" stroke="#2a2727" stroke-width="1" stroke-linecap="butt"/>
<text x="46.92" y="294.78" font-size="8" text-anchor="end" textLength="4.45" lengthAdjust="spacingAndGlyphs">0</text>
<text x="18.3" y="252.5" font-size="10.1" text-anchor="middle" transform="rotate(-90 18.3 252.5)" textLength="71.9" lengthAdjust="spacingAndGlyphs">Live T-cells as % mean</text>
<text x="27.8" y="252.8" font-size="10.1" text-anchor="middle" transform="rotate(-90 27.8 252.8)" textLength="58.2" lengthAdjust="spacingAndGlyphs">control expansion</text>
<line x1="51.6" y1="291.5" x2="168.8" y2="291.5" stroke="#2a2727" stroke-width="1" stroke-linecap="butt"/>
<line x1="61.5" y1="291.9" x2="61.5" y2="294.5" stroke="#2a2727" stroke-width="1" stroke-linecap="butt"/>
<line x1="81.5" y1="291.9" x2="81.5" y2="294.5" stroke="#2a2727" stroke-width="1" stroke-linecap="butt"/>
<line x1="100.5" y1="291.9" x2="100.5" y2="294.5" stroke="#2a2727" stroke-width="1" stroke-linecap="butt"/>
<line x1="120.5" y1="291.9" x2="120.5" y2="294.5" stroke="#2a2727" stroke-width="1" stroke-linecap="butt"/>
<line x1="139.5" y1="291.9" x2="139.5" y2="294.5" stroke="#2a2727" stroke-width="1" stroke-linecap="butt"/>
<line x1="159.5" y1="291.9" x2="159.5" y2="294.5" stroke="#2a2727" stroke-width="1" stroke-linecap="butt"/>
<line x1="61.5" y1="249.4" x2="61.5" y2="264.1" stroke="#2a2727" stroke-width="1.05" stroke-linecap="butt"/>
<line x1="58.9" y1="249.5" x2="64.9" y2="249.5" stroke="#2a2727" stroke-width="1.05" stroke-linecap="butt"/>
<line x1="61.5" y1="272.2" x2="61.5" y2="280.3" stroke="#2a2727" stroke-width="1.05" stroke-linecap="butt"/>
<line x1="58.9" y1="280.5" x2="64.9" y2="280.5" stroke="#2a2727" stroke-width="1.05" stroke-linecap="butt"/>
<rect x="56.5" y="264.5" width="11" height="8" fill="#c8102e" stroke="#2a2727" stroke-width="1.05"/>
<line x1="56.05" y1="265" x2="67.75" y2="265" stroke="#2a2727" stroke-width="1.5" stroke-linecap="butt"/>
<line x1="81.5" y1="236.2" x2="81.5" y2="258.2" stroke="#2a2727" stroke-width="1.05" stroke-linecap="butt"/>
<line x1="78.4" y1="236.5" x2="84.4" y2="236.5" stroke="#2a2727" stroke-width="1.05" stroke-linecap="butt"/>
<line x1="81.5" y1="276.4" x2="81.5" y2="282.4" stroke="#2a2727" stroke-width="1.05" stroke-linecap="butt"/>
<line x1="78.4" y1="282.5" x2="84.4" y2="282.5" stroke="#2a2727" stroke-width="1.05" stroke-linecap="butt"/>
<rect x="75.5" y="258.5" width="12" height="18" fill="#10508e" stroke="#2a2727" stroke-width="1.05"/>
<line x1="75.35" y1="259" x2="87.45" y2="259" stroke="#2a2727" stroke-width="1.5" stroke-linecap="butt"/>
<line x1="100.5" y1="262.9" x2="100.5" y2="265.2" stroke="#2a2727" stroke-width="1.05" stroke-linecap="butt"/>
<line x1="97.8" y1="265.5" x2="103.8" y2="265.5" stroke="#2a2727" stroke-width="1.05" stroke-linecap="butt"/>
<rect x="94.5" y="243.5" width="12" height="19" fill="#3db54a" stroke="#2a2727" stroke-width="1.05"/>
<line x1="94.75" y1="255.4" x2="106.85" y2="255.4" stroke="#2a2727" stroke-width="1.5" stroke-linecap="butt"/>
<line x1="120.5" y1="241.3" x2="120.5" y2="245.7" stroke="#2a2727" stroke-width="1.05" stroke-linecap="butt"/>
<line x1="117.3" y1="241.5" x2="123.3" y2="241.5" stroke="#2a2727" stroke-width="1.05" stroke-linecap="butt"/>
<line x1="120.5" y1="262.6" x2="120.5" y2="264.5" stroke="#2a2727" stroke-width="1.05" stroke-linecap="butt"/>
<line x1="117.3" y1="264.5" x2="123.3" y2="264.5" stroke="#2a2727" stroke-width="1.05" stroke-linecap="butt"/>
<rect x="114.5" y="245.5" width="12" height="17" fill="#642a7e" stroke="#2a2727" stroke-width="1.05"/>
<line x1="114.4" y1="254.1" x2="126.2" y2="254.1" stroke="#2a2727" stroke-width="1.5" stroke-linecap="butt"/>
<line x1="139.5" y1="242" x2="139.5" y2="246.5" stroke="#2a2727" stroke-width="1.05" stroke-linecap="butt"/>
<line x1="136.7" y1="242.5" x2="142.7" y2="242.5" stroke="#2a2727" stroke-width="1.05" stroke-linecap="butt"/>
<line x1="139.5" y1="257.6" x2="139.5" y2="260.3" stroke="#2a2727" stroke-width="1.05" stroke-linecap="butt"/>
<line x1="136.7" y1="260.5" x2="142.7" y2="260.5" stroke="#2a2727" stroke-width="1.05" stroke-linecap="butt"/>
<rect x="133.5" y="246.5" width="12" height="11" fill="#fc9a05" stroke="#2a2727" stroke-width="1.05"/>
<line x1="133.9" y1="254.5" x2="145.5" y2="254.5" stroke="#2a2727" stroke-width="1.5" stroke-linecap="butt"/>
<line x1="159.5" y1="219.9" x2="159.5" y2="236.1" stroke="#2a2727" stroke-width="1.05" stroke-linecap="butt"/>
<line x1="156.2" y1="219.5" x2="162.2" y2="219.5" stroke="#2a2727" stroke-width="1.05" stroke-linecap="butt"/>
<line x1="159.5" y1="260.3" x2="159.5" y2="261.4" stroke="#2a2727" stroke-width="1.05" stroke-linecap="butt"/>
<line x1="156.2" y1="261.5" x2="162.2" y2="261.5" stroke="#2a2727" stroke-width="1.05" stroke-linecap="butt"/>
<rect x="153.5" y="236.5" width="12" height="24" fill="#05735a" stroke="#2a2727" stroke-width="1.05"/>
<line x1="153.1" y1="253.4" x2="165.3" y2="253.4" stroke="#2a2727" stroke-width="1.5" stroke-linecap="butt"/>
<line x1="90.5" y1="219" x2="90.5" y2="291" stroke="#8a8a8a" stroke-width="0.8" stroke-dasharray="1,1.75" stroke-linecap="butt"/>
<line x1="111.5" y1="219" x2="111.5" y2="291" stroke="#8a8a8a" stroke-width="0.8" stroke-dasharray="1,1.75" stroke-linecap="butt"/>
<text x="79.9" y="207" font-size="8.2" textLength="7.92" lengthAdjust="spacingAndGlyphs" style="stroke-width:0.1px">IC</text>
<text x="88.32" y="208.9" font-size="5.25" textLength="4.78" lengthAdjust="spacingAndGlyphs" style="stroke-width:0.1px">50</text>
<text x="86.5" y="215.9" font-size="8.2" text-anchor="middle" textLength="20.1" lengthAdjust="spacingAndGlyphs" style="stroke-width:0.1px">PI3Kδ</text>
<text x="111.3" y="207" font-size="8.2" textLength="7.92" lengthAdjust="spacingAndGlyphs" style="stroke-width:0.1px">IC</text>
<text x="119.72" y="208.9" font-size="5.25" textLength="4.78" lengthAdjust="spacingAndGlyphs" style="stroke-width:0.1px">50</text>
<text x="117.9" y="215.9" font-size="8.2" text-anchor="middle" textLength="20.3" lengthAdjust="spacingAndGlyphs" style="stroke-width:0.1px">PI3Kγ</text>
<polyline points="61.5,197.5 61.5,176.5 150.5,176.5 150.5,198.5" fill="none" stroke="#2a2727" stroke-width="0.9"/>
<line x1="61.6" y1="186.5" x2="117" y2="186.5" stroke="#2a2727" stroke-width="0.9" stroke-linecap="butt"/>
<line x1="61.6" y1="197.5" x2="99.9" y2="197.5" stroke="#2a2727" stroke-width="0.9" stroke-linecap="butt"/>
<polyline points="139.5,200.5 139.5,198.5 161.5,198.5 161.5,200.5" fill="none" stroke="#2a2727" stroke-width="0.9"/>
<path d="M100.55 170.95L101.09 172.05L102.31 172.23L101.43 173.09L101.64 174.3L100.55 173.73L99.46 174.3L99.67 173.09L98.79 172.23L100.01 172.05ZM104.65 170.95L105.19 172.05L106.41 172.23L105.53 173.09L105.74 174.3L104.65 173.73L103.56 174.3L103.77 173.09L102.89 172.23L104.11 172.05Z" fill="#2e2b2b" stroke="#2e2b2b" stroke-width="0.35" stroke-linejoin="round"/>
<path d="M87.5 180.55L88.04 181.65L89.26 181.83L88.38 182.69L88.59 183.9L87.5 183.33L86.41 183.9L86.62 182.69L85.74 181.83L86.96 181.65Z" fill="#2e2b2b" stroke="#2e2b2b" stroke-width="0.35" stroke-linejoin="round"/>
<path d="M75.05 191.55L75.59 192.65L76.81 192.83L75.93 193.69L76.14 194.9L75.05 194.33L73.96 194.9L74.17 193.69L73.29 192.83L74.51 192.65ZM79.15 191.55L79.69 192.65L80.91 192.83L80.03 193.69L80.24 194.9L79.15 194.33L78.06 194.9L78.27 193.69L77.39 192.83L78.61 192.65Z" fill="#2e2b2b" stroke="#2e2b2b" stroke-width="0.35" stroke-linejoin="round"/>
<text x="64.1" y="301.5" font-size="9" text-anchor="end" transform="rotate(-45 64.1 301.5)" textLength="43.01" lengthAdjust="spacingAndGlyphs">0.1% DMSO</text>
<text x="83.6" y="301.5" font-size="9" text-anchor="end" transform="rotate(-45 83.6 301.5)" textLength="23.66" lengthAdjust="spacingAndGlyphs">300pM</text>
<text x="103" y="301.5" font-size="9" text-anchor="end" transform="rotate(-45 103 301.5)" textLength="15.06" lengthAdjust="spacingAndGlyphs">3nM</text>
<text x="122.5" y="301.5" font-size="9" text-anchor="end" transform="rotate(-45 122.5 301.5)" textLength="19.36" lengthAdjust="spacingAndGlyphs">30nM</text>
<text x="141.9" y="301.5" font-size="9" text-anchor="end" transform="rotate(-45 141.9 301.5)" textLength="23.66" lengthAdjust="spacingAndGlyphs">300nM</text>
<text x="161.4" y="301.5" font-size="9" text-anchor="end" transform="rotate(-45 161.4 301.5)" textLength="15.21" lengthAdjust="spacingAndGlyphs">3μM</text>
<text x="110.55" y="332.8" font-size="9" text-anchor="middle" textLength="58.1" lengthAdjust="spacingAndGlyphs">Duvelisib q3 days</text>
<text x="191.8" y="177.4" font-size="10.9" font-weight="bold" style="fill:#151515;stroke:#151515;stroke-width:0.35px">E</text>
<line x1="217.5" y1="206.4" x2="217.5" y2="289.5" stroke="#2a2727" stroke-width="1" stroke-linecap="butt"/>
<line x1="214.9" y1="206.5" x2="217.3" y2="206.5" stroke="#2a2727" stroke-width="1" stroke-linecap="butt"/>
<text x="212.22" y="209.78" font-size="8" text-anchor="end" textLength="8.6" lengthAdjust="spacingAndGlyphs">50</text>
<line x1="214.9" y1="223.5" x2="217.3" y2="223.5" stroke="#2a2727" stroke-width="1" stroke-linecap="butt"/>
<text x="212.22" y="226.2" font-size="8" text-anchor="end" textLength="8.6" lengthAdjust="spacingAndGlyphs">40</text>
<line x1="214.9" y1="239.5" x2="217.3" y2="239.5" stroke="#2a2727" stroke-width="1" stroke-linecap="butt"/>
<text x="212.22" y="242.62" font-size="8" text-anchor="end" textLength="8.6" lengthAdjust="spacingAndGlyphs">30</text>
<line x1="214.9" y1="256.5" x2="217.3" y2="256.5" stroke="#2a2727" stroke-width="1" stroke-linecap="butt"/>
<text x="212.22" y="259.04" font-size="8" text-anchor="end" textLength="8.6" lengthAdjust="spacingAndGlyphs">20</text>
<line x1="214.9" y1="272.5" x2="217.3" y2="272.5" stroke="#2a2727" stroke-width="1" stroke-linecap="butt"/>
<text x="212.22" y="275.46" font-size="8" text-anchor="end" textLength="8.6" lengthAdjust="spacingAndGlyphs">10</text>
<line x1="214.9" y1="289.5" x2="217.3" y2="289.5" stroke="#2a2727" stroke-width="1" stroke-linecap="butt"/>
<text x="212.22" y="291.88" font-size="8" text-anchor="end" textLength="4.3" lengthAdjust="spacingAndGlyphs">0</text>
<text x="196.5" y="247.4" font-size="9.8" text-anchor="middle" transform="rotate(-90 196.5 247.4)" textLength="66.8" lengthAdjust="spacingAndGlyphs">CD8+ T-cells (%CD3)</text>
<line x1="217.3" y1="289.5" x2="340.6" y2="289.5" stroke="#2a2727" stroke-width="1" stroke-linecap="butt"/>
<line x1="227.5" y1="289.2" x2="227.5" y2="291.8" stroke="#2a2727" stroke-width="1" stroke-linecap="butt"/>
<line x1="248.5" y1="289.2" x2="248.5" y2="291.8" stroke="#2a2727" stroke-width="1" stroke-linecap="butt"/>
<line x1="268.5" y1="289.2" x2="268.5" y2="291.8" stroke="#2a2727" stroke-width="1" stroke-linecap="butt"/>
<line x1="289.5" y1="289.2" x2="289.5" y2="291.8" stroke="#2a2727" stroke-width="1" stroke-linecap="butt"/>
<line x1="309.5" y1="289.2" x2="309.5" y2="291.8" stroke="#2a2727" stroke-width="1" stroke-linecap="butt"/>
<line x1="330.5" y1="289.2" x2="330.5" y2="291.8" stroke="#2a2727" stroke-width="1" stroke-linecap="butt"/>
<line x1="227.5" y1="256.9" x2="227.5" y2="259.2" stroke="#2a2727" stroke-width="1.05" stroke-linecap="butt"/>
<line x1="224.8" y1="256.5" x2="230.8" y2="256.5" stroke="#2a2727" stroke-width="1.05" stroke-linecap="butt"/>
<line x1="227.5" y1="265" x2="227.5" y2="265.4" stroke="#2a2727" stroke-width="1.05" stroke-linecap="butt"/>
<line x1="224.8" y1="265.5" x2="230.8" y2="265.5" stroke="#2a2727" stroke-width="1.05" stroke-linecap="butt"/>
<rect x="221.5" y="259.5" width="13" height="6" fill="#c8102e" stroke="#2a2727" stroke-width="1.05"/>
<line x1="221.55" y1="262.1" x2="234.05" y2="262.1" stroke="#2a2727" stroke-width="1.5" stroke-linecap="butt"/>
<line x1="248.5" y1="252.5" x2="248.5" y2="260.2" stroke="#2a2727" stroke-width="1.05" stroke-linecap="butt"/>
<line x1="245.3" y1="252.5" x2="251.3" y2="252.5" stroke="#2a2727" stroke-width="1.05" stroke-linecap="butt"/>
<line x1="248.5" y1="268.8" x2="248.5" y2="272.7" stroke="#2a2727" stroke-width="1.05" stroke-linecap="butt"/>
<line x1="245.3" y1="272.5" x2="251.3" y2="272.5" stroke="#2a2727" stroke-width="1.05" stroke-linecap="butt"/>
<rect x="242.5" y="260.5" width="12" height="8" fill="#10508e" stroke="#2a2727" stroke-width="1.05"/>
<line x1="242.05" y1="262.7" x2="254.55" y2="262.7" stroke="#2a2727" stroke-width="1.5" stroke-linecap="butt"/>
<line x1="268.5" y1="253" x2="268.5" y2="256.3" stroke="#2a2727" stroke-width="1.05" stroke-linecap="butt"/>
<line x1="265.7" y1="253.5" x2="271.7" y2="253.5" stroke="#2a2727" stroke-width="1.05" stroke-linecap="butt"/>
<line x1="268.5" y1="267.5" x2="268.5" y2="270.8" stroke="#2a2727" stroke-width="1.05" stroke-linecap="butt"/>
<line x1="265.7" y1="270.5" x2="271.7" y2="270.5" stroke="#2a2727" stroke-width="1.05" stroke-linecap="butt"/>
<rect x="262.5" y="256.5" width="13" height="11" fill="#3db54a" stroke="#2a2727" stroke-width="1.05"/>
<line x1="262.35" y1="265.4" x2="275.05" y2="265.4" stroke="#2a2727" stroke-width="1.5" stroke-linecap="butt"/>
<line x1="289.5" y1="249.5" x2="289.5" y2="253.7" stroke="#2a2727" stroke-width="1.05" stroke-linecap="butt"/>
<line x1="286.2" y1="249.5" x2="292.2" y2="249.5" stroke="#2a2727" stroke-width="1.05" stroke-linecap="butt"/>
<line x1="289.5" y1="268.3" x2="289.5" y2="270.2" stroke="#2a2727" stroke-width="1.05" stroke-linecap="butt"/>
<line x1="286.2" y1="270.5" x2="292.2" y2="270.5" stroke="#2a2727" stroke-width="1.05" stroke-linecap="butt"/>
<rect x="283.5" y="253.5" width="12" height="15" fill="#642a7e" stroke="#2a2727" stroke-width="1.05"/>
<line x1="283" y1="262.5" x2="295.4" y2="262.5" stroke="#2a2727" stroke-width="1.5" stroke-linecap="butt"/>
<line x1="309.5" y1="237" x2="309.5" y2="246.6" stroke="#2a2727" stroke-width="1.05" stroke-linecap="butt"/>
<line x1="306.7" y1="237.5" x2="312.7" y2="237.5" stroke="#2a2727" stroke-width="1.05" stroke-linecap="butt"/>
<line x1="309.5" y1="262.5" x2="309.5" y2="263.8" stroke="#2a2727" stroke-width="1.05" stroke-linecap="butt"/>
<line x1="306.7" y1="263.5" x2="312.7" y2="263.5" stroke="#2a2727" stroke-width="1.05" stroke-linecap="butt"/>
<rect x="303.5" y="246.5" width="12" height="16" fill="#fc9a05" stroke="#2a2727" stroke-width="1.05"/>
<line x1="303.45" y1="260.4" x2="315.95" y2="260.4" stroke="#2a2727" stroke-width="1.5" stroke-linecap="butt"/>
<line x1="330.5" y1="226" x2="330.5" y2="237" stroke="#2a2727" stroke-width="1.05" stroke-linecap="butt"/>
<line x1="327.5" y1="226.5" x2="333.5" y2="226.5" stroke="#2a2727" stroke-width="1.05" stroke-linecap="butt"/>
<line x1="330.5" y1="249.1" x2="330.5" y2="256.7" stroke="#2a2727" stroke-width="1.05" stroke-linecap="butt"/>
<line x1="327.5" y1="256.5" x2="333.5" y2="256.5" stroke="#2a2727" stroke-width="1.05" stroke-linecap="butt"/>
<rect x="324.5" y="237.5" width="12" height="12" fill="#05735a" stroke="#2a2727" stroke-width="1.05"/>
<line x1="324.25" y1="246.6" x2="336.75" y2="246.6" stroke="#2a2727" stroke-width="1.5" stroke-linecap="butt"/>
<line x1="254.5" y1="212" x2="254.5" y2="289" stroke="#8a8a8a" stroke-width="0.8" stroke-dasharray="1,1.75" stroke-linecap="butt"/>
<line x1="279.5" y1="212" x2="279.5" y2="289" stroke="#8a8a8a" stroke-width="0.8" stroke-dasharray="1,1.75" stroke-linecap="butt"/>
<text x="247.15" y="200.6" font-size="7.9" textLength="7.86" lengthAdjust="spacingAndGlyphs" style="stroke-width:0.1px">IC</text>
<text x="255.51" y="202.5" font-size="5.06" textLength="4.74" lengthAdjust="spacingAndGlyphs" style="stroke-width:0.1px">50</text>
<text x="253.7" y="209.6" font-size="7.9" text-anchor="middle" textLength="20.1" lengthAdjust="spacingAndGlyphs" style="stroke-width:0.1px">PI3Kδ</text>
<text x="278.1" y="200.5" font-size="7.9" textLength="7.8" lengthAdjust="spacingAndGlyphs" style="stroke-width:0.1px">IC</text>
<text x="286.4" y="202.4" font-size="5.06" textLength="4.7" lengthAdjust="spacingAndGlyphs" style="stroke-width:0.1px">50</text>
<text x="284.6" y="209.5" font-size="7.9" text-anchor="middle" textLength="19.8" lengthAdjust="spacingAndGlyphs" style="stroke-width:0.1px">PI3Kγ</text>
<line x1="228.8" y1="180.5" x2="334.4" y2="180.5" stroke="#2a2727" stroke-width="0.9" stroke-linecap="butt"/>
<path d="M281.15 173.75L281.69 174.85L282.91 175.03L282.03 175.89L282.24 177.1L281.15 176.53L280.06 177.1L280.27 175.89L279.39 175.03L280.61 174.85ZM285.25 173.75L285.79 174.85L287.01 175.03L286.13 175.89L286.34 177.1L285.25 176.53L284.16 177.1L284.37 175.89L283.49 175.03L284.71 174.85Z" fill="#2e2b2b" stroke="#2e2b2b" stroke-width="0.35" stroke-linejoin="round"/>
<text x="230.9" y="299.5" font-size="9" text-anchor="end" transform="rotate(-45 230.9 299.5)" textLength="44.01" lengthAdjust="spacingAndGlyphs">0.1% DMSO</text>
<text x="251.4" y="299.5" font-size="9" text-anchor="end" transform="rotate(-45 251.4 299.5)" textLength="24.21" lengthAdjust="spacingAndGlyphs">300pM</text>
<text x="271.8" y="299.5" font-size="9" text-anchor="end" transform="rotate(-45 271.8 299.5)" textLength="15.41" lengthAdjust="spacingAndGlyphs">3nM</text>
<text x="292.3" y="299.5" font-size="9" text-anchor="end" transform="rotate(-45 292.3 299.5)" textLength="19.81" lengthAdjust="spacingAndGlyphs">30nM</text>
<text x="312.8" y="299.5" font-size="9" text-anchor="end" transform="rotate(-45 312.8 299.5)" textLength="24.21" lengthAdjust="spacingAndGlyphs">300nM</text>
<text x="333.6" y="299.5" font-size="9" text-anchor="end" transform="rotate(-45 333.6 299.5)" textLength="15.57" lengthAdjust="spacingAndGlyphs">3μM</text>
<text x="279.3" y="332.8" font-size="9" text-anchor="middle" textLength="58.5" lengthAdjust="spacingAndGlyphs">Duvelisib q3 days</text>
<text x="368" y="177.4" font-size="10.9" font-weight="bold" style="fill:#151515;stroke:#151515;stroke-width:0.35px">F</text>
<line x1="399.5" y1="197.4" x2="399.5" y2="290.2" stroke="#2a2727" stroke-width="1" stroke-linecap="butt"/>
<line x1="396.9" y1="197.5" x2="399.3" y2="197.5" stroke="#2a2727" stroke-width="1" stroke-linecap="butt"/>
<text x="394.04" y="200.92" font-size="8.4" text-anchor="end" textLength="4.8" lengthAdjust="spacingAndGlyphs">6</text>
<line x1="396.9" y1="228.5" x2="399.3" y2="228.5" stroke="#2a2727" stroke-width="1" stroke-linecap="butt"/>
<text x="394.04" y="231.52" font-size="8.4" text-anchor="end" textLength="4.8" lengthAdjust="spacingAndGlyphs">4</text>
<line x1="396.9" y1="259.5" x2="399.3" y2="259.5" stroke="#2a2727" stroke-width="1" stroke-linecap="butt"/>
<text x="394.04" y="262.12" font-size="8.4" text-anchor="end" textLength="4.8" lengthAdjust="spacingAndGlyphs">2</text>
<line x1="396.9" y1="289.5" x2="399.3" y2="289.5" stroke="#2a2727" stroke-width="1" stroke-linecap="butt"/>
<text x="394.04" y="292.72" font-size="8.4" text-anchor="end" textLength="4.8" lengthAdjust="spacingAndGlyphs">0</text>
<line x1="397.9" y1="285.88" x2="399.3" y2="285.88" stroke="#2a2727" stroke-width="0.8" stroke-linecap="butt"/>
<line x1="397.9" y1="282.05" x2="399.3" y2="282.05" stroke="#2a2727" stroke-width="0.8" stroke-linecap="butt"/>
<line x1="397.9" y1="278.22" x2="399.3" y2="278.22" stroke="#2a2727" stroke-width="0.8" stroke-linecap="butt"/>
<line x1="397.9" y1="274.4" x2="399.3" y2="274.4" stroke="#2a2727" stroke-width="0.8" stroke-linecap="butt"/>
<line x1="397.9" y1="270.57" x2="399.3" y2="270.57" stroke="#2a2727" stroke-width="0.8" stroke-linecap="butt"/>
<line x1="397.9" y1="266.75" x2="399.3" y2="266.75" stroke="#2a2727" stroke-width="0.8" stroke-linecap="butt"/>
<line x1="397.9" y1="262.93" x2="399.3" y2="262.93" stroke="#2a2727" stroke-width="0.8" stroke-linecap="butt"/>
<line x1="397.9" y1="255.27" x2="399.3" y2="255.27" stroke="#2a2727" stroke-width="0.8" stroke-linecap="butt"/>
<line x1="397.9" y1="251.45" x2="399.3" y2="251.45" stroke="#2a2727" stroke-width="0.8" stroke-linecap="butt"/>
<line x1="397.9" y1="247.62" x2="399.3" y2="247.62" stroke="#2a2727" stroke-width="0.8" stroke-linecap="butt"/>
<line x1="397.9" y1="243.8" x2="399.3" y2="243.8" stroke="#2a2727" stroke-width="0.8" stroke-linecap="butt"/>
<line x1="397.9" y1="239.97" x2="399.3" y2="239.97" stroke="#2a2727" stroke-width="0.8" stroke-linecap="butt"/>
<line x1="397.9" y1="236.15" x2="399.3" y2="236.15" stroke="#2a2727" stroke-width="0.8" stroke-linecap="butt"/>
<line x1="397.9" y1="232.32" x2="399.3" y2="232.32" stroke="#2a2727" stroke-width="0.8" stroke-linecap="butt"/>
<line x1="397.9" y1="224.67" x2="399.3" y2="224.67" stroke="#2a2727" stroke-width="0.8" stroke-linecap="butt"/>
<line x1="397.9" y1="220.85" x2="399.3" y2="220.85" stroke="#2a2727" stroke-width="0.8" stroke-linecap="butt"/>
<line x1="397.9" y1="217.02" x2="399.3" y2="217.02" stroke="#2a2727" stroke-width="0.8" stroke-linecap="butt"/>
<line x1="397.9" y1="213.2" x2="399.3" y2="213.2" stroke="#2a2727" stroke-width="0.8" stroke-linecap="butt"/>
<line x1="397.9" y1="209.38" x2="399.3" y2="209.38" stroke="#2a2727" stroke-width="0.8" stroke-linecap="butt"/>
<line x1="397.9" y1="205.55" x2="399.3" y2="205.55" stroke="#2a2727" stroke-width="0.8" stroke-linecap="butt"/>
<line x1="397.9" y1="201.72" x2="399.3" y2="201.72" stroke="#2a2727" stroke-width="0.8" stroke-linecap="butt"/>
<text x="384" y="243.5" font-size="9.3" text-anchor="middle" transform="rotate(-90 384 243.5)" textLength="60.6" lengthAdjust="spacingAndGlyphs" style="stroke-width:0.1px">CD4:CD8 cell ratio</text>
<line x1="399.3" y1="289.5" x2="459.5" y2="289.5" stroke="#2a2727" stroke-width="1" stroke-linecap="butt"/>
<line x1="416.5" y1="289.7" x2="416.5" y2="292.3" stroke="#2a2727" stroke-width="1" stroke-linecap="butt"/>
<line x1="443.5" y1="289.7" x2="443.5" y2="292.3" stroke="#2a2727" stroke-width="1" stroke-linecap="butt"/>
<rect x="409.2" y="215.7" width="15.6" height="74" fill="#e08699"/>
<line x1="417.5" y1="203.2" x2="417.5" y2="226.4" stroke="#c90f36" stroke-width="1" stroke-linecap="butt"/>
<line x1="412.9" y1="203.5" x2="421.1" y2="203.5" stroke="#c90f36" stroke-width="1" stroke-linecap="butt"/>
<line x1="412.9" y1="226.5" x2="421.1" y2="226.5" stroke="#c90f36" stroke-width="1" stroke-linecap="butt"/>
<circle cx="414" cy="206.3" r="1.4" fill="#c90f36"/>
<circle cx="419.9" cy="206.5" r="1.4" fill="#c90f36"/>
<circle cx="419.9" cy="203.4" r="1.4" fill="#c90f36"/>
<circle cx="414" cy="220.7" r="1.4" fill="#c90f36"/>
<circle cx="419.9" cy="222.8" r="1.4" fill="#c90f36"/>
<circle cx="417" cy="229.6" r="1.4" fill="#c90f36"/>
<rect x="435.1" y="256.7" width="15.9" height="33" fill="#86a8ca"/>
<line x1="443.5" y1="247.9" x2="443.5" y2="263.8" stroke="#0d4d8c" stroke-width="1" stroke-linecap="butt"/>
<line x1="438.95" y1="247.5" x2="447.15" y2="247.5" stroke="#0d4d8c" stroke-width="1" stroke-linecap="butt"/>
<line x1="438.95" y1="263.5" x2="447.15" y2="263.5" stroke="#0d4d8c" stroke-width="1" stroke-linecap="butt"/>
<circle cx="437.45" cy="253.2" r="1.4" fill="#0d4d8c"/>
<circle cx="443.05" cy="251.2" r="1.4" fill="#0d4d8c"/>
<circle cx="448.35" cy="250.4" r="1.4" fill="#0d4d8c"/>
<circle cx="448.35" cy="253.8" r="1.4" fill="#0d4d8c"/>
<circle cx="443.05" cy="257.1" r="1.4" fill="#0d4d8c"/>
<circle cx="443.05" cy="269.7" r="1.4" fill="#0d4d8c"/>
<line x1="417.9" y1="192.5" x2="445.8" y2="192.5" stroke="#2a2727" stroke-width="0.9" stroke-linecap="butt"/>
<path d="M430.25 186.15L430.79 187.25L432.01 187.43L431.13 188.29L431.34 189.5L430.25 188.93L429.16 189.5L429.37 188.29L428.49 187.43L429.71 187.25ZM434.35 186.15L434.89 187.25L436.11 187.43L435.23 188.29L435.44 189.5L434.35 188.93L433.26 189.5L433.47 188.29L432.59 187.43L433.81 187.25Z" fill="#2e2b2b" stroke="#2e2b2b" stroke-width="0.35" stroke-linejoin="round"/>
<text x="419.5" y="299.3" font-size="9" text-anchor="end" transform="rotate(-45 419.5 299.3)" textLength="43.01" lengthAdjust="spacingAndGlyphs">0.1% DMSO</text>
<text x="445.8" y="299.3" font-size="9" text-anchor="end" transform="rotate(-45 445.8 299.3)" textLength="55.93" lengthAdjust="spacingAndGlyphs">300nM duvelisib</text>
<text x="8" y="358.6" font-size="10.9" font-weight="bold" style="fill:#151515;stroke:#151515;stroke-width:0.35px">G</text>
<line x1="35.5" y1="385.3" x2="35.5" y2="447.4" stroke="#2a2727" stroke-width="1" stroke-linecap="butt"/>
<line x1="33.1" y1="385.5" x2="35.5" y2="385.5" stroke="#2a2727" stroke-width="1" stroke-linecap="butt"/>
<text x="31.42" y="388.66" font-size="8" text-anchor="end" textLength="9.2" lengthAdjust="spacingAndGlyphs">40</text>
<line x1="33.1" y1="401.5" x2="35.5" y2="401.5" stroke="#2a2727" stroke-width="1" stroke-linecap="butt"/>
<text x="31.42" y="403.94" font-size="8" text-anchor="end" textLength="9.2" lengthAdjust="spacingAndGlyphs">30</text>
<line x1="33.1" y1="416.5" x2="35.5" y2="416.5" stroke="#2a2727" stroke-width="1" stroke-linecap="butt"/>
<text x="31.42" y="419.22" font-size="8" text-anchor="end" textLength="9.2" lengthAdjust="spacingAndGlyphs">20</text>
<line x1="33.1" y1="431.5" x2="35.5" y2="431.5" stroke="#2a2727" stroke-width="1" stroke-linecap="butt"/>
<text x="31.42" y="434.5" font-size="8" text-anchor="end" textLength="9.2" lengthAdjust="spacingAndGlyphs">10</text>
<line x1="33.1" y1="446.5" x2="35.5" y2="446.5" stroke="#2a2727" stroke-width="1" stroke-linecap="butt"/>
<text x="31.42" y="449.78" font-size="8" text-anchor="end" textLength="4.6" lengthAdjust="spacingAndGlyphs">0</text>
<text x="15.7" y="416.2" font-size="9.5" text-anchor="middle" transform="rotate(-90 15.7 416.2)" textLength="80.5" lengthAdjust="spacingAndGlyphs">TIM3+ CD8+ T-cells (%)</text>
<line x1="35.5" y1="447.5" x2="128.1" y2="447.5" stroke="#2a2727" stroke-width="1" stroke-linecap="butt"/>
<line x1="43.5" y1="447" x2="43.5" y2="449.6" stroke="#2a2727" stroke-width="1" stroke-linecap="butt"/>
<line x1="58.5" y1="447" x2="58.5" y2="449.6" stroke="#2a2727" stroke-width="1" stroke-linecap="butt"/>
<line x1="74.5" y1="447" x2="74.5" y2="449.6" stroke="#2a2727" stroke-width="1" stroke-linecap="butt"/>
<line x1="89.5" y1="447" x2="89.5" y2="449.6" stroke="#2a2727" stroke-width="1" stroke-linecap="butt"/>
<line x1="105.5" y1="447" x2="105.5" y2="449.6" stroke="#2a2727" stroke-width="1" stroke-linecap="butt"/>
<line x1="120.5" y1="447" x2="120.5" y2="449.6" stroke="#2a2727" stroke-width="1" stroke-linecap="butt"/>
<line x1="43.5" y1="389.3" x2="43.5" y2="391.4" stroke="#2a2727" stroke-width="1.05" stroke-linecap="butt"/>
<line x1="40.8" y1="389.5" x2="45.8" y2="389.5" stroke="#2a2727" stroke-width="1.05" stroke-linecap="butt"/>
<line x1="43.5" y1="424.8" x2="43.5" y2="431.3" stroke="#2a2727" stroke-width="1.05" stroke-linecap="butt"/>
<line x1="40.8" y1="431.5" x2="45.8" y2="431.5" stroke="#2a2727" stroke-width="1.05" stroke-linecap="butt"/>
<rect x="38.5" y="391.5" width="10" height="33" fill="#c8102e" stroke="#2a2727" stroke-width="1.05"/>
<line x1="38.45" y1="404.4" x2="48.15" y2="404.4" stroke="#2a2727" stroke-width="1.5" stroke-linecap="butt"/>
<line x1="58.5" y1="395.4" x2="58.5" y2="399.3" stroke="#2a2727" stroke-width="1.05" stroke-linecap="butt"/>
<line x1="56.3" y1="395.5" x2="61.3" y2="395.5" stroke="#2a2727" stroke-width="1.05" stroke-linecap="butt"/>
<line x1="58.5" y1="432.9" x2="58.5" y2="436.5" stroke="#2a2727" stroke-width="1.05" stroke-linecap="butt"/>
<line x1="56.3" y1="436.5" x2="61.3" y2="436.5" stroke="#2a2727" stroke-width="1.05" stroke-linecap="butt"/>
<rect x="53.5" y="399.5" width="10" height="33" fill="#10508e" stroke="#2a2727" stroke-width="1.05"/>
<line x1="53.95" y1="417.9" x2="63.65" y2="417.9" stroke="#2a2727" stroke-width="1.5" stroke-linecap="butt"/>
<line x1="74.5" y1="408.3" x2="74.5" y2="412.7" stroke="#2a2727" stroke-width="1.05" stroke-linecap="butt"/>
<line x1="71.7" y1="408.5" x2="76.7" y2="408.5" stroke="#2a2727" stroke-width="1.05" stroke-linecap="butt"/>
<rect x="69.5" y="412.5" width="10" height="25" fill="#3db54a" stroke="#2a2727" stroke-width="1.05"/>
<line x1="69.25" y1="427.8" x2="79.15" y2="427.8" stroke="#2a2727" stroke-width="1.5" stroke-linecap="butt"/>
<line x1="89.5" y1="423.1" x2="89.5" y2="424.7" stroke="#2a2727" stroke-width="1.05" stroke-linecap="butt"/>
<line x1="87.4" y1="423.5" x2="92.4" y2="423.5" stroke="#2a2727" stroke-width="1.05" stroke-linecap="butt"/>
<line x1="89.5" y1="440.6" x2="89.5" y2="442" stroke="#2a2727" stroke-width="1.05" stroke-linecap="butt"/>
<line x1="87.4" y1="442.5" x2="92.4" y2="442.5" stroke="#2a2727" stroke-width="1.05" stroke-linecap="butt"/>
<rect x="85.5" y="424.5" width="9" height="16" fill="#642a7e" stroke="#2a2727" stroke-width="1.05"/>
<line x1="85.1" y1="433.8" x2="94.7" y2="433.8" stroke="#2a2727" stroke-width="1.5" stroke-linecap="butt"/>
<line x1="105.5" y1="428.5" x2="105.5" y2="431.2" stroke="#2a2727" stroke-width="1.05" stroke-linecap="butt"/>
<line x1="102.8" y1="428.5" x2="107.8" y2="428.5" stroke="#2a2727" stroke-width="1.05" stroke-linecap="butt"/>
<rect x="100.5" y="431.5" width="10" height="11" fill="#fc9a05" stroke="#2a2727" stroke-width="1.05"/>
<line x1="100.5" y1="440.3" x2="110.1" y2="440.3" stroke="#2a2727" stroke-width="1.5" stroke-linecap="butt"/>
<line x1="120.5" y1="435.3" x2="120.5" y2="438.2" stroke="#2a2727" stroke-width="1.05" stroke-linecap="butt"/>
<line x1="118.3" y1="435.5" x2="123.3" y2="435.5" stroke="#2a2727" stroke-width="1.05" stroke-linecap="butt"/>
<rect x="115.5" y="438.5" width="10" height="5" fill="#05735a" stroke="#2a2727" stroke-width="1.05"/>
<line x1="115.95" y1="441.5" x2="125.65" y2="441.5" stroke="#2a2727" stroke-width="1.5" stroke-linecap="butt"/>
<line x1="63.5" y1="388" x2="63.5" y2="447" stroke="#8a8a8a" stroke-width="0.8" stroke-dasharray="1,1.75" stroke-linecap="butt"/>
<line x1="82.5" y1="388" x2="82.5" y2="447" stroke="#8a8a8a" stroke-width="0.8" stroke-dasharray="1,1.75" stroke-linecap="butt"/>
<text x="53.25" y="376.3" font-size="7.8" textLength="7.02" lengthAdjust="spacingAndGlyphs" style="stroke-width:0.1px">IC</text>
<text x="60.77" y="378.2" font-size="4.99" textLength="4.18" lengthAdjust="spacingAndGlyphs" style="stroke-width:0.1px">50</text>
<text x="59.1" y="385.3" font-size="7.8" text-anchor="middle" textLength="20.2" lengthAdjust="spacingAndGlyphs" style="stroke-width:0.1px">PI3Kδ</text>
<text x="82.05" y="375.7" font-size="7.8" textLength="7.62" lengthAdjust="spacingAndGlyphs" style="stroke-width:0.1px">IC</text>
<text x="90.17" y="377.6" font-size="4.99" textLength="4.58" lengthAdjust="spacingAndGlyphs" style="stroke-width:0.1px">50</text>
<text x="88.4" y="385.5" font-size="7.8" text-anchor="middle" textLength="19" lengthAdjust="spacingAndGlyphs" style="stroke-width:0.1px">PI3Kγ</text>
<polyline points="42.5,369.5 42.5,354.5 114.5,354.5 114.5,370.5" fill="none" stroke="#2a2727" stroke-width="0.9"/>
<line x1="42.7" y1="362.5" x2="90.8" y2="362.5" stroke="#2a2727" stroke-width="0.9" stroke-linecap="butt"/>
<polyline points="104.5,372.5 104.5,370.5 122.5,370.5 122.5,372.5" fill="none" stroke="#2a2727" stroke-width="0.9"/>
<path d="M73.4 347.65L73.94 348.75L75.16 348.93L74.28 349.79L74.49 351L73.4 350.43L72.31 351L72.52 349.79L71.64 348.93L72.86 348.75ZM77.5 347.65L78.04 348.75L79.26 348.93L78.38 349.79L78.59 351L77.5 350.43L76.41 351L76.62 349.79L75.74 348.93L76.96 348.75ZM81.6 347.65L82.14 348.75L83.36 348.93L82.48 349.79L82.69 351L81.6 350.43L80.51 351L80.72 349.79L79.84 348.93L81.06 348.75Z" fill="#2e2b2b" stroke="#2e2b2b" stroke-width="0.35" stroke-linejoin="round"/>
<path d="M63.35 356.55L63.89 357.65L65.11 357.83L64.23 358.69L64.44 359.9L63.35 359.33L62.26 359.9L62.47 358.69L61.59 357.83L62.81 357.65ZM67.45 356.55L67.99 357.65L69.21 357.83L68.33 358.69L68.54 359.9L67.45 359.33L66.36 359.9L66.57 358.69L65.69 357.83L66.91 357.65Z" fill="#2e2b2b" stroke="#2e2b2b" stroke-width="0.35" stroke-linejoin="round"/>
<text x="45.9" y="456.6" font-size="9" text-anchor="end" transform="rotate(-45 45.9 456.6)" textLength="43.01" lengthAdjust="spacingAndGlyphs">0.1% DMSO</text>
<text x="61.4" y="456.6" font-size="9" text-anchor="end" transform="rotate(-45 61.4 456.6)" textLength="23.66" lengthAdjust="spacingAndGlyphs">300pM</text>
<text x="76.8" y="456.6" font-size="9" text-anchor="end" transform="rotate(-45 76.8 456.6)" textLength="15.06" lengthAdjust="spacingAndGlyphs">3nM</text>
<text x="92.5" y="456.6" font-size="9" text-anchor="end" transform="rotate(-45 92.5 456.6)" textLength="19.36" lengthAdjust="spacingAndGlyphs">30nM</text>
<text x="107.9" y="456.6" font-size="9" text-anchor="end" transform="rotate(-45 107.9 456.6)" textLength="23.66" lengthAdjust="spacingAndGlyphs">300nM</text>
<text x="123.4" y="456.6" font-size="9" text-anchor="end" transform="rotate(-45 123.4 456.6)" textLength="15.21" lengthAdjust="spacingAndGlyphs">3μM</text>
<text x="81.6" y="497.5" font-size="9" text-anchor="middle" textLength="57.9" lengthAdjust="spacingAndGlyphs">Duvelisib q3 days</text>
<line x1="166.5" y1="383.4" x2="166.5" y2="447" stroke="#2a2727" stroke-width="1" stroke-linecap="butt"/>
<line x1="164.1" y1="383.5" x2="166.5" y2="383.5" stroke="#2a2727" stroke-width="1" stroke-linecap="butt"/>
<text x="159.92" y="386.78" font-size="8" text-anchor="end" textLength="8.4" lengthAdjust="spacingAndGlyphs">80</text>
<line x1="164.1" y1="399.5" x2="166.5" y2="399.5" stroke="#2a2727" stroke-width="1" stroke-linecap="butt"/>
<text x="159.92" y="402.43" font-size="8" text-anchor="end" textLength="8.4" lengthAdjust="spacingAndGlyphs">60</text>
<line x1="164.1" y1="415.5" x2="166.5" y2="415.5" stroke="#2a2727" stroke-width="1" stroke-linecap="butt"/>
<text x="159.92" y="418.08" font-size="8" text-anchor="end" textLength="8.4" lengthAdjust="spacingAndGlyphs">40</text>
<line x1="164.1" y1="430.5" x2="166.5" y2="430.5" stroke="#2a2727" stroke-width="1" stroke-linecap="butt"/>
<text x="159.92" y="433.73" font-size="8" text-anchor="end" textLength="8.4" lengthAdjust="spacingAndGlyphs">20</text>
<line x1="164.1" y1="446.5" x2="166.5" y2="446.5" stroke="#2a2727" stroke-width="1" stroke-linecap="butt"/>
<text x="159.92" y="449.38" font-size="8" text-anchor="end" textLength="4.2" lengthAdjust="spacingAndGlyphs">0</text>
<text x="145" y="416.2" font-size="9.5" text-anchor="middle" transform="rotate(-90 145 416.2)" textLength="80.5" lengthAdjust="spacingAndGlyphs">LAG3+ CD8+ T-cells (%)</text>
<line x1="166.5" y1="446.5" x2="260" y2="446.5" stroke="#2a2727" stroke-width="1" stroke-linecap="butt"/>
<line x1="174.5" y1="446.5" x2="174.5" y2="449.1" stroke="#2a2727" stroke-width="1" stroke-linecap="butt"/>
<line x1="189.5" y1="446.5" x2="189.5" y2="449.1" stroke="#2a2727" stroke-width="1" stroke-linecap="butt"/>
<line x1="205.5" y1="446.5" x2="205.5" y2="449.1" stroke="#2a2727" stroke-width="1" stroke-linecap="butt"/>
<line x1="221.5" y1="446.5" x2="221.5" y2="449.1" stroke="#2a2727" stroke-width="1" stroke-linecap="butt"/>
<line x1="236.5" y1="446.5" x2="236.5" y2="449.1" stroke="#2a2727" stroke-width="1" stroke-linecap="butt"/>
<line x1="252.5" y1="446.5" x2="252.5" y2="449.1" stroke="#2a2727" stroke-width="1" stroke-linecap="butt"/>
<line x1="174.5" y1="398.4" x2="174.5" y2="415.3" stroke="#2a2727" stroke-width="1.05" stroke-linecap="butt"/>
<line x1="171.5" y1="398.5" x2="176.5" y2="398.5" stroke="#2a2727" stroke-width="1.05" stroke-linecap="butt"/>
<line x1="174.5" y1="433.5" x2="174.5" y2="439.6" stroke="#2a2727" stroke-width="1.05" stroke-linecap="butt"/>
<line x1="171.5" y1="439.5" x2="176.5" y2="439.5" stroke="#2a2727" stroke-width="1.05" stroke-linecap="butt"/>
<rect x="169.5" y="415.5" width="9" height="18" fill="#c8102e" stroke="#2a2727" stroke-width="1.05"/>
<line x1="169.25" y1="423.5" x2="178.75" y2="423.5" stroke="#2a2727" stroke-width="1.5" stroke-linecap="butt"/>
<line x1="189.5" y1="397.8" x2="189.5" y2="416.2" stroke="#2a2727" stroke-width="1.05" stroke-linecap="butt"/>
<line x1="187.4" y1="397.5" x2="192.4" y2="397.5" stroke="#2a2727" stroke-width="1.05" stroke-linecap="butt"/>
<line x1="189.5" y1="436.2" x2="189.5" y2="440.4" stroke="#2a2727" stroke-width="1.05" stroke-linecap="butt"/>
<line x1="187.4" y1="440.5" x2="192.4" y2="440.5" stroke="#2a2727" stroke-width="1.05" stroke-linecap="butt"/>
<rect x="185.5" y="416.5" width="9" height="20" fill="#10508e" stroke="#2a2727" stroke-width="1.05"/>
<line x1="185.05" y1="426.2" x2="194.75" y2="426.2" stroke="#2a2727" stroke-width="1.5" stroke-linecap="butt"/>
<line x1="205.5" y1="409.6" x2="205.5" y2="420.4" stroke="#2a2727" stroke-width="1.05" stroke-linecap="butt"/>
<line x1="203.1" y1="409.5" x2="208.1" y2="409.5" stroke="#2a2727" stroke-width="1.05" stroke-linecap="butt"/>
<line x1="205.5" y1="440.4" x2="205.5" y2="443" stroke="#2a2727" stroke-width="1.05" stroke-linecap="butt"/>
<line x1="203.1" y1="443.5" x2="208.1" y2="443.5" stroke="#2a2727" stroke-width="1.05" stroke-linecap="butt"/>
<rect x="200.5" y="420.5" width="10" height="20" fill="#3db54a" stroke="#2a2727" stroke-width="1.05"/>
<line x1="200.8" y1="426.2" x2="210.4" y2="426.2" stroke="#2a2727" stroke-width="1.5" stroke-linecap="butt"/>
<line x1="221.5" y1="422.7" x2="221.5" y2="427" stroke="#2a2727" stroke-width="1.05" stroke-linecap="butt"/>
<line x1="218.5" y1="422.5" x2="223.5" y2="422.5" stroke="#2a2727" stroke-width="1.05" stroke-linecap="butt"/>
<line x1="221.5" y1="441.2" x2="221.5" y2="443.9" stroke="#2a2727" stroke-width="1.05" stroke-linecap="butt"/>
<line x1="218.5" y1="443.5" x2="223.5" y2="443.5" stroke="#2a2727" stroke-width="1.05" stroke-linecap="butt"/>
<rect x="216.5" y="427.5" width="9" height="14" fill="#642a7e" stroke="#2a2727" stroke-width="1.05"/>
<line x1="216.25" y1="431.2" x2="225.75" y2="431.2" stroke="#2a2727" stroke-width="1.5" stroke-linecap="butt"/>
<line x1="236.5" y1="428.5" x2="236.5" y2="429.6" stroke="#2a2727" stroke-width="1.05" stroke-linecap="butt"/>
<line x1="234.1" y1="428.5" x2="239.1" y2="428.5" stroke="#2a2727" stroke-width="1.05" stroke-linecap="butt"/>
<line x1="236.5" y1="441.2" x2="236.5" y2="444.2" stroke="#2a2727" stroke-width="1.05" stroke-linecap="butt"/>
<line x1="234.1" y1="444.5" x2="239.1" y2="444.5" stroke="#2a2727" stroke-width="1.05" stroke-linecap="butt"/>
<rect x="231.5" y="429.5" width="10" height="12" fill="#fc9a05" stroke="#2a2727" stroke-width="1.05"/>
<line x1="231.75" y1="436.5" x2="241.45" y2="436.5" stroke="#2a2727" stroke-width="1.5" stroke-linecap="butt"/>
<line x1="252.5" y1="432.4" x2="252.5" y2="434.2" stroke="#2a2727" stroke-width="1.05" stroke-linecap="butt"/>
<line x1="249.9" y1="432.5" x2="254.9" y2="432.5" stroke="#2a2727" stroke-width="1.05" stroke-linecap="butt"/>
<rect x="247.5" y="434.5" width="10" height="9" fill="#05735a" stroke="#2a2727" stroke-width="1.05"/>
<line x1="247.4" y1="443" x2="257.4" y2="443" stroke="#2a2727" stroke-width="1.5" stroke-linecap="butt"/>
<line x1="194.5" y1="387" x2="194.5" y2="446" stroke="#8a8a8a" stroke-width="0.8" stroke-dasharray="1,1.75" stroke-linecap="butt"/>
<line x1="213.5" y1="387" x2="213.5" y2="446" stroke="#8a8a8a" stroke-width="0.8" stroke-dasharray="1,1.75" stroke-linecap="butt"/>
<text x="185.8" y="375.8" font-size="7.8" textLength="7.32" lengthAdjust="spacingAndGlyphs" style="stroke-width:0.1px">IC</text>
<text x="193.62" y="377.7" font-size="4.99" textLength="4.38" lengthAdjust="spacingAndGlyphs" style="stroke-width:0.1px">50</text>
<text x="191.9" y="385" font-size="7.8" text-anchor="middle" textLength="20" lengthAdjust="spacingAndGlyphs" style="stroke-width:0.1px">PI3Kδ</text>
<text x="212.55" y="375.8" font-size="7.8" textLength="7.38" lengthAdjust="spacingAndGlyphs" style="stroke-width:0.1px">IC</text>
<text x="220.43" y="377.7" font-size="4.99" textLength="4.42" lengthAdjust="spacingAndGlyphs" style="stroke-width:0.1px">50</text>
<text x="218.7" y="385" font-size="7.8" text-anchor="middle" textLength="19.6" lengthAdjust="spacingAndGlyphs" style="stroke-width:0.1px">PI3Kγ</text>
<line x1="175.3" y1="363.5" x2="255.4" y2="363.5" stroke="#2a2727" stroke-width="0.9" stroke-linecap="butt"/>
<path d="M214.6 357.65L215.14 358.75L216.36 358.93L215.48 359.79L215.69 361L214.6 360.43L213.51 361L213.72 359.79L212.84 358.93L214.06 358.75Z" fill="#2e2b2b" stroke="#2e2b2b" stroke-width="0.35" stroke-linejoin="round"/>
<text x="178.4" y="456.9" font-size="9" text-anchor="end" transform="rotate(-45 178.4 456.9)" textLength="43.01" lengthAdjust="spacingAndGlyphs">0.1% DMSO</text>
<text x="194.3" y="456.9" font-size="9" text-anchor="end" transform="rotate(-45 194.3 456.9)" textLength="23.66" lengthAdjust="spacingAndGlyphs">300pM</text>
<text x="210" y="456.9" font-size="9" text-anchor="end" transform="rotate(-45 210 456.9)" textLength="15.06" lengthAdjust="spacingAndGlyphs">3nM</text>
<text x="225.4" y="456.9" font-size="9" text-anchor="end" transform="rotate(-45 225.4 456.9)" textLength="19.36" lengthAdjust="spacingAndGlyphs">30nM</text>
<text x="241" y="456.9" font-size="9" text-anchor="end" transform="rotate(-45 241 456.9)" textLength="23.66" lengthAdjust="spacingAndGlyphs">300nM</text>
<text x="256.8" y="456.9" font-size="9" text-anchor="end" transform="rotate(-45 256.8 456.9)" textLength="15.21" lengthAdjust="spacingAndGlyphs">3μM</text>
<text x="213.8" y="497.5" font-size="9" text-anchor="middle" textLength="58.7" lengthAdjust="spacingAndGlyphs">Duvelisib q3 days</text>
<line x1="298.5" y1="384.9" x2="298.5" y2="447.4" stroke="#2a2727" stroke-width="1" stroke-linecap="butt"/>
<line x1="296.1" y1="385.5" x2="298.5" y2="385.5" stroke="#2a2727" stroke-width="1" stroke-linecap="butt"/>
<text x="292.02" y="388.28" font-size="8" text-anchor="end" textLength="9" lengthAdjust="spacingAndGlyphs">60</text>
<line x1="296.1" y1="405.5" x2="298.5" y2="405.5" stroke="#2a2727" stroke-width="1" stroke-linecap="butt"/>
<text x="292.02" y="408.78" font-size="8" text-anchor="end" textLength="9" lengthAdjust="spacingAndGlyphs">40</text>
<line x1="296.1" y1="426.5" x2="298.5" y2="426.5" stroke="#2a2727" stroke-width="1" stroke-linecap="butt"/>
<text x="292.02" y="429.28" font-size="8" text-anchor="end" textLength="9" lengthAdjust="spacingAndGlyphs">20</text>
<line x1="296.1" y1="446.5" x2="298.5" y2="446.5" stroke="#2a2727" stroke-width="1" stroke-linecap="butt"/>
<text x="292.02" y="449.78" font-size="8" text-anchor="end" textLength="4.5" lengthAdjust="spacingAndGlyphs">0</text>
<text x="276.5" y="413.9" font-size="9.5" text-anchor="middle" transform="rotate(-90 276.5 413.9)" textLength="76.7" lengthAdjust="spacingAndGlyphs">PD–1+ CD8+ T-cells (%)</text>
<line x1="298.5" y1="447.5" x2="390.9" y2="447.5" stroke="#2a2727" stroke-width="1" stroke-linecap="butt"/>
<line x1="305.5" y1="447.1" x2="305.5" y2="449.7" stroke="#2a2727" stroke-width="1" stroke-linecap="butt"/>
<line x1="321.5" y1="447.1" x2="321.5" y2="449.7" stroke="#2a2727" stroke-width="1" stroke-linecap="butt"/>
<line x1="336.5" y1="447.1" x2="336.5" y2="449.7" stroke="#2a2727" stroke-width="1" stroke-linecap="butt"/>
<line x1="352.5" y1="447.1" x2="352.5" y2="449.7" stroke="#2a2727" stroke-width="1" stroke-linecap="butt"/>
<line x1="368.5" y1="447.1" x2="368.5" y2="449.7" stroke="#2a2727" stroke-width="1" stroke-linecap="butt"/>
<line x1="383.5" y1="447.1" x2="383.5" y2="449.7" stroke="#2a2727" stroke-width="1" stroke-linecap="butt"/>
<line x1="305.5" y1="392.1" x2="305.5" y2="426.5" stroke="#2a2727" stroke-width="1.05" stroke-linecap="butt"/>
<line x1="303.3" y1="392.5" x2="308.3" y2="392.5" stroke="#2a2727" stroke-width="1.05" stroke-linecap="butt"/>
<line x1="305.5" y1="443.8" x2="305.5" y2="444.8" stroke="#2a2727" stroke-width="1.05" stroke-linecap="butt"/>
<line x1="303.3" y1="444.5" x2="308.3" y2="444.5" stroke="#2a2727" stroke-width="1.05" stroke-linecap="butt"/>
<rect x="301.5" y="426.5" width="9" height="17" fill="#c8102e" stroke="#2a2727" stroke-width="1.05"/>
<line x1="301.25" y1="443.4" x2="310.35" y2="443.4" stroke="#2a2727" stroke-width="1.5" stroke-linecap="butt"/>
<line x1="321.5" y1="403.1" x2="321.5" y2="429.4" stroke="#2a2727" stroke-width="1.05" stroke-linecap="butt"/>
<line x1="318.9" y1="403.5" x2="323.9" y2="403.5" stroke="#2a2727" stroke-width="1.05" stroke-linecap="butt"/>
<line x1="321.5" y1="443.8" x2="321.5" y2="444.4" stroke="#2a2727" stroke-width="1.05" stroke-linecap="butt"/>
<line x1="318.9" y1="444.5" x2="323.9" y2="444.5" stroke="#2a2727" stroke-width="1.05" stroke-linecap="butt"/>
<rect x="316.5" y="429.5" width="10" height="14" fill="#10508e" stroke="#2a2727" stroke-width="1.05"/>
<line x1="316.75" y1="439.6" x2="326.05" y2="439.6" stroke="#2a2727" stroke-width="1.5" stroke-linecap="butt"/>
<line x1="336.5" y1="404.4" x2="336.5" y2="428.1" stroke="#2a2727" stroke-width="1.05" stroke-linecap="butt"/>
<line x1="334.2" y1="404.5" x2="339.2" y2="404.5" stroke="#2a2727" stroke-width="1.05" stroke-linecap="butt"/>
<line x1="336.5" y1="443.1" x2="336.5" y2="445.4" stroke="#2a2727" stroke-width="1.05" stroke-linecap="butt"/>
<line x1="334.2" y1="445.5" x2="339.2" y2="445.5" stroke="#2a2727" stroke-width="1.05" stroke-linecap="butt"/>
<rect x="332.5" y="428.5" width="9" height="15" fill="#3db54a" stroke="#2a2727" stroke-width="1.05"/>
<line x1="332.1" y1="441.5" x2="341.3" y2="441.5" stroke="#2a2727" stroke-width="1.5" stroke-linecap="butt"/>
<line x1="352.5" y1="420" x2="352.5" y2="431.1" stroke="#2a2727" stroke-width="1.05" stroke-linecap="butt"/>
<line x1="349.7" y1="420.5" x2="354.7" y2="420.5" stroke="#2a2727" stroke-width="1.05" stroke-linecap="butt"/>
<rect x="347.5" y="431.5" width="10" height="12" fill="#642a7e" stroke="#2a2727" stroke-width="1.05"/>
<line x1="347.4" y1="443" x2="357" y2="443" stroke="#2a2727" stroke-width="1.5" stroke-linecap="butt"/>
<line x1="368.5" y1="420" x2="368.5" y2="434.5" stroke="#2a2727" stroke-width="1.05" stroke-linecap="butt"/>
<line x1="365.7" y1="420.5" x2="370.7" y2="420.5" stroke="#2a2727" stroke-width="1.05" stroke-linecap="butt"/>
<rect x="363.5" y="434.5" width="9" height="10" fill="#fc9a05" stroke="#2a2727" stroke-width="1.05"/>
<line x1="363.65" y1="442.1" x2="372.75" y2="442.1" stroke="#2a2727" stroke-width="1.5" stroke-linecap="butt"/>
<line x1="383.5" y1="430.6" x2="383.5" y2="438.8" stroke="#2a2727" stroke-width="1.05" stroke-linecap="butt"/>
<line x1="381" y1="430.5" x2="386" y2="430.5" stroke="#2a2727" stroke-width="1.05" stroke-linecap="butt"/>
<rect x="378.5" y="438.5" width="10" height="6" fill="#05735a" stroke="#2a2727" stroke-width="1.05"/>
<line x1="378.7" y1="443.3" x2="388.3" y2="443.3" stroke="#2a2727" stroke-width="1.5" stroke-linecap="butt"/>
<line x1="326.5" y1="388" x2="326.5" y2="446" stroke="#8a8a8a" stroke-width="0.8" stroke-dasharray="1,1.75" stroke-linecap="butt"/>
<line x1="345.5" y1="388" x2="345.5" y2="446" stroke="#8a8a8a" stroke-width="0.8" stroke-dasharray="1,1.75" stroke-linecap="butt"/>
<text x="316.95" y="376.5" font-size="7.8" textLength="7.5" lengthAdjust="spacingAndGlyphs" style="stroke-width:0.1px">IC</text>
<text x="324.95" y="378.4" font-size="4.99" textLength="4.5" lengthAdjust="spacingAndGlyphs" style="stroke-width:0.1px">50</text>
<text x="323.2" y="385.4" font-size="7.8" text-anchor="middle" textLength="19.5" lengthAdjust="spacingAndGlyphs" style="stroke-width:0.1px">PI3Kδ</text>
<text x="344.05" y="375.7" font-size="7.8" textLength="7.74" lengthAdjust="spacingAndGlyphs" style="stroke-width:0.1px">IC</text>
<text x="352.29" y="377.6" font-size="4.99" textLength="4.66" lengthAdjust="spacingAndGlyphs" style="stroke-width:0.1px">50</text>
<text x="350.5" y="385.3" font-size="7.8" text-anchor="middle" textLength="19.7" lengthAdjust="spacingAndGlyphs" style="stroke-width:0.1px">PI3Kγ</text>
<text x="309.2" y="457.4" font-size="9" text-anchor="end" transform="rotate(-45 309.2 457.4)" textLength="43.01" lengthAdjust="spacingAndGlyphs">0.1% DMSO</text>
<text x="324.8" y="457.4" font-size="9" text-anchor="end" transform="rotate(-45 324.8 457.4)" textLength="23.66" lengthAdjust="spacingAndGlyphs">300pM</text>
<text x="340.1" y="457.4" font-size="9" text-anchor="end" transform="rotate(-45 340.1 457.4)" textLength="15.06" lengthAdjust="spacingAndGlyphs">3nM</text>
<text x="355.6" y="457.4" font-size="9" text-anchor="end" transform="rotate(-45 355.6 457.4)" textLength="19.36" lengthAdjust="spacingAndGlyphs">30nM</text>
<text x="371.6" y="457.4" font-size="9" text-anchor="end" transform="rotate(-45 371.6 457.4)" textLength="23.66" lengthAdjust="spacingAndGlyphs">300nM</text>
<text x="386.9" y="457.4" font-size="9" text-anchor="end" transform="rotate(-45 386.9 457.4)" textLength="15.21" lengthAdjust="spacingAndGlyphs">3μM</text>
<text x="344.1" y="497.5" font-size="9" text-anchor="middle" textLength="59.7" lengthAdjust="spacingAndGlyphs">Duvelisib q3 days</text>
<text x="396.3" y="359.1" font-size="10.9" font-weight="bold" style="fill:#151515;stroke:#151515;stroke-width:0.35px">H</text>
<line x1="426.5" y1="388.7" x2="426.5" y2="448" stroke="#2a2727" stroke-width="1" stroke-linecap="butt"/>
<line x1="424.4" y1="389.5" x2="426.8" y2="389.5" stroke="#2a2727" stroke-width="1" stroke-linecap="butt"/>
<text x="420.12" y="392.13" font-size="8" text-anchor="end" textLength="8.5" lengthAdjust="spacingAndGlyphs">30</text>
<line x1="424.4" y1="408.5" x2="426.8" y2="408.5" stroke="#2a2727" stroke-width="1" stroke-linecap="butt"/>
<text x="420.12" y="411.48" font-size="8" text-anchor="end" textLength="8.5" lengthAdjust="spacingAndGlyphs">20</text>
<line x1="424.4" y1="427.5" x2="426.8" y2="427.5" stroke="#2a2727" stroke-width="1" stroke-linecap="butt"/>
<text x="420.12" y="430.83" font-size="8" text-anchor="end" textLength="8.5" lengthAdjust="spacingAndGlyphs">10</text>
<line x1="424.4" y1="447.5" x2="426.8" y2="447.5" stroke="#2a2727" stroke-width="1" stroke-linecap="butt"/>
<text x="420.12" y="450.18" font-size="8" text-anchor="end" textLength="4.25" lengthAdjust="spacingAndGlyphs">0</text>
<text x="405" y="417.5" font-size="9.7" text-anchor="middle" transform="rotate(-90 405 417.5)" textLength="40.8" lengthAdjust="spacingAndGlyphs">% Total CD4</text>
<line x1="426.8" y1="447.5" x2="514.2" y2="447.5" stroke="#2a2727" stroke-width="1" stroke-linecap="butt"/>
<line x1="433.5" y1="447.6" x2="433.5" y2="450.2" stroke="#2a2727" stroke-width="1" stroke-linecap="butt"/>
<line x1="448.5" y1="447.6" x2="448.5" y2="450.2" stroke="#2a2727" stroke-width="1" stroke-linecap="butt"/>
<line x1="463.5" y1="447.6" x2="463.5" y2="450.2" stroke="#2a2727" stroke-width="1" stroke-linecap="butt"/>
<line x1="477.5" y1="447.6" x2="477.5" y2="450.2" stroke="#2a2727" stroke-width="1" stroke-linecap="butt"/>
<line x1="492.5" y1="447.6" x2="492.5" y2="450.2" stroke="#2a2727" stroke-width="1" stroke-linecap="butt"/>
<line x1="506.5" y1="447.6" x2="506.5" y2="450.2" stroke="#2a2727" stroke-width="1" stroke-linecap="butt"/>
<rect x="429.5" y="394.5" width="9" height="38" fill="#c8102e" stroke="#2a2727" stroke-width="1.05"/>
<line x1="429.3" y1="406.6" x2="438.5" y2="406.6" stroke="#2a2727" stroke-width="1.5" stroke-linecap="butt"/>
<rect x="443.5" y="412.5" width="10" height="28" fill="#10508e" stroke="#2a2727" stroke-width="1.05"/>
<line x1="443.9" y1="426.1" x2="453.1" y2="426.1" stroke="#2a2727" stroke-width="1.5" stroke-linecap="butt"/>
<rect x="458.5" y="427.5" width="9" height="15" fill="#3db54a" stroke="#2a2727" stroke-width="1.05"/>
<line x1="458.6" y1="437" x2="467.8" y2="437" stroke="#2a2727" stroke-width="1.5" stroke-linecap="butt"/>
<rect x="473.5" y="433.5" width="9" height="11" fill="#642a7e" stroke="#2a2727" stroke-width="1.05"/>
<line x1="473.2" y1="440.6" x2="482.4" y2="440.6" stroke="#2a2727" stroke-width="1.5" stroke-linecap="butt"/>
<rect x="487.5" y="436.5" width="9" height="9" fill="#fc9a05" stroke="#2a2727" stroke-width="1.05"/>
<line x1="487.8" y1="442.7" x2="497" y2="442.7" stroke="#2a2727" stroke-width="1.5" stroke-linecap="butt"/>
<rect x="502.5" y="437.5" width="9" height="7" fill="#05735a" stroke="#2a2727" stroke-width="1.05"/>
<line x1="454.5" y1="410" x2="454.5" y2="447" stroke="#8c8c8c" stroke-width="1" stroke-linecap="butt"/>
<line x1="472.5" y1="409.8" x2="472.5" y2="447" stroke="#8c8c8c" stroke-width="1" stroke-linecap="butt"/>
<text x="447" y="401.6" font-size="6.2" textLength="6" lengthAdjust="spacingAndGlyphs" style="stroke-width:0.1px">IC</text>
<text x="453.5" y="403.5" font-size="3.97" textLength="3.5" lengthAdjust="spacingAndGlyphs" style="stroke-width:0.1px">50</text>
<text x="452" y="407.8" font-size="6.2" text-anchor="middle" textLength="15.5" lengthAdjust="spacingAndGlyphs" style="stroke-width:0.1px">PI3Kδ</text>
<text x="470.9" y="401.4" font-size="6.2" textLength="6.36" lengthAdjust="spacingAndGlyphs" style="stroke-width:0.1px">IC</text>
<text x="477.76" y="403.3" font-size="3.97" textLength="3.74" lengthAdjust="spacingAndGlyphs" style="stroke-width:0.1px">50</text>
<text x="476.2" y="408.4" font-size="6.2" text-anchor="middle" textLength="16.4" lengthAdjust="spacingAndGlyphs" style="stroke-width:0.1px">PI3Kγ</text>
<polyline points="434.5,390.5 434.5,379.5 472.5,379.5 472.5,390.5" fill="none" stroke="#2a2727" stroke-width="0.9"/>
<line x1="462.9" y1="390.5" x2="509.7" y2="390.5" stroke="#2a2727" stroke-width="0.9" stroke-linecap="butt"/>
<line x1="462.5" y1="390.4" x2="462.5" y2="392.6" stroke="#2a2727" stroke-width="0.9" stroke-linecap="butt"/>
<line x1="478.5" y1="390.4" x2="478.5" y2="392.6" stroke="#2a2727" stroke-width="0.9" stroke-linecap="butt"/>
<line x1="493.5" y1="390.4" x2="493.5" y2="392.6" stroke="#2a2727" stroke-width="0.9" stroke-linecap="butt"/>
<line x1="509.5" y1="390.4" x2="509.5" y2="392.6" stroke="#2a2727" stroke-width="0.9" stroke-linecap="butt"/>
<path d="M447 372.75L447.54 373.85L448.76 374.03L447.88 374.89L448.09 376.1L447 375.53L445.91 376.1L446.12 374.89L445.24 374.03L446.46 373.85ZM451.1 372.75L451.64 373.85L452.86 374.03L451.98 374.89L452.19 376.1L451.1 375.53L450.01 376.1L450.22 374.89L449.34 374.03L450.56 373.85ZM455.2 372.75L455.74 373.85L456.96 374.03L456.08 374.89L456.29 376.1L455.2 375.53L454.11 376.1L454.32 374.89L453.44 374.03L454.66 373.85Z" fill="#2e2b2b" stroke="#2e2b2b" stroke-width="0.35" stroke-linejoin="round"/>
<text x="436.3" y="457.2" font-size="9" text-anchor="end" transform="rotate(-45 436.3 457.2)" textLength="43.01" lengthAdjust="spacingAndGlyphs">0.1% DMSO</text>
<text x="450.9" y="457.2" font-size="9" text-anchor="end" transform="rotate(-45 450.9 457.2)" textLength="55.93" lengthAdjust="spacingAndGlyphs">300pM duvelisib</text>
<text x="465.6" y="457.2" font-size="9" text-anchor="end" transform="rotate(-45 465.6 457.2)" textLength="47.32" lengthAdjust="spacingAndGlyphs">3nM duvelisib</text>
<text x="480.2" y="457.2" font-size="9" text-anchor="end" transform="rotate(-45 480.2 457.2)" textLength="51.63" lengthAdjust="spacingAndGlyphs">30nM duvelisib</text>
<text x="494.8" y="457.2" font-size="9" text-anchor="end" transform="rotate(-45 494.8 457.2)" textLength="55.93" lengthAdjust="spacingAndGlyphs">300nM duvelisib</text>
<text x="509.3" y="457.2" font-size="9" text-anchor="end" transform="rotate(-45 509.3 457.2)" textLength="47.32" lengthAdjust="spacingAndGlyphs">3?M duvelisib</text>
<text x="458.7" y="508.4" font-size="9" text-anchor="middle" textLength="45.6" lengthAdjust="spacingAndGlyphs">Duvelisib q3d</text>
<text x="7.6" y="520" font-size="10.9" font-weight="bold" style="fill:#151515;stroke:#151515;stroke-width:0.35px">I</text>
<line x1="48.5" y1="531.8" x2="48.5" y2="622.2" stroke="#2a2727" stroke-width="1" stroke-linecap="butt"/>
<line x1="45.7" y1="532.5" x2="48.1" y2="532.5" stroke="#2a2727" stroke-width="1" stroke-linecap="butt"/>
<text x="43.43" y="535.25" font-size="8.2" text-anchor="end" textLength="9.2" lengthAdjust="spacingAndGlyphs" style="stroke:none">50</text>
<line x1="45.7" y1="550.5" x2="48.1" y2="550.5" stroke="#2a2727" stroke-width="1" stroke-linecap="butt"/>
<text x="43.43" y="553.13" font-size="8.2" text-anchor="end" textLength="9.2" lengthAdjust="spacingAndGlyphs" style="stroke:none">40</text>
<line x1="45.7" y1="568.5" x2="48.1" y2="568.5" stroke="#2a2727" stroke-width="1" stroke-linecap="butt"/>
<text x="43.43" y="571.01" font-size="8.2" text-anchor="end" textLength="9.2" lengthAdjust="spacingAndGlyphs" style="stroke:none">30</text>
<line x1="45.7" y1="585.5" x2="48.1" y2="585.5" stroke="#2a2727" stroke-width="1" stroke-linecap="butt"/>
<text x="43.43" y="588.89" font-size="8.2" text-anchor="end" textLength="9.2" lengthAdjust="spacingAndGlyphs" style="stroke:none">20</text>
<line x1="45.7" y1="603.5" x2="48.1" y2="603.5" stroke="#2a2727" stroke-width="1" stroke-linecap="butt"/>
<text x="43.43" y="606.77" font-size="8.2" text-anchor="end" textLength="9.2" lengthAdjust="spacingAndGlyphs" style="stroke:none">10</text>
<line x1="45.7" y1="621.5" x2="48.1" y2="621.5" stroke="#2a2727" stroke-width="1" stroke-linecap="butt"/>
<text x="43.43" y="624.65" font-size="8.2" text-anchor="end" textLength="4.6" lengthAdjust="spacingAndGlyphs" style="stroke:none">0</text>
<text x="28.7" y="575.2" font-size="9" text-anchor="middle" transform="rotate(-90 28.7 575.2)" textLength="83.8" lengthAdjust="spacingAndGlyphs" style="stroke:none">Frequency of CD3+ T-cells</text>
<line x1="48.1" y1="621.5" x2="183" y2="621.5" stroke="#2a2727" stroke-width="1" stroke-linecap="butt"/>
<line x1="62.5" y1="621.7" x2="62.5" y2="624.3" stroke="#2a2727" stroke-width="1" stroke-linecap="butt"/>
<line x1="88.5" y1="621.7" x2="88.5" y2="624.3" stroke="#2a2727" stroke-width="1" stroke-linecap="butt"/>
<line x1="115.5" y1="621.7" x2="115.5" y2="624.3" stroke="#2a2727" stroke-width="1" stroke-linecap="butt"/>
<line x1="142.5" y1="621.7" x2="142.5" y2="624.3" stroke="#2a2727" stroke-width="1" stroke-linecap="butt"/>
<line x1="168.5" y1="621.7" x2="168.5" y2="624.3" stroke="#2a2727" stroke-width="1" stroke-linecap="butt"/>
<text x="116" y="529.3" font-size="10.4" text-anchor="middle" textLength="52.9" lengthAdjust="spacingAndGlyphs" style="stroke:none">0.1% DMSO</text>
<line x1="62.5" y1="619" x2="62.5" y2="619.6" stroke="#2a2727" stroke-width="1.05" stroke-linecap="butt"/>
<line x1="58.3" y1="619.5" x2="66.3" y2="619.5" stroke="#2a2727" stroke-width="1.05" stroke-linecap="butt"/>
<rect x="54.5" y="619.5" width="16" height="1" fill="#222" stroke="#2a2727" stroke-width="1.05"/>
<line x1="88.5" y1="607.5" x2="88.5" y2="609" stroke="#2a2727" stroke-width="1.05" stroke-linecap="butt"/>
<line x1="84.9" y1="607.5" x2="92.9" y2="607.5" stroke="#2a2727" stroke-width="1.05" stroke-linecap="butt"/>
<rect x="80.5" y="609.5" width="17" height="6" fill="#10508e" stroke="#2a2727" stroke-width="1.05"/>
<line x1="80.65" y1="613" x2="97.15" y2="613" stroke="#2a2727" stroke-width="1.5" stroke-linecap="butt"/>
<line x1="115.5" y1="599.5" x2="115.5" y2="600.1" stroke="#2a2727" stroke-width="1.05" stroke-linecap="butt"/>
<line x1="111.5" y1="599.5" x2="119.5" y2="599.5" stroke="#2a2727" stroke-width="1.05" stroke-linecap="butt"/>
<line x1="115.5" y1="610.7" x2="115.5" y2="613.9" stroke="#2a2727" stroke-width="1.05" stroke-linecap="butt"/>
<line x1="111.5" y1="613.5" x2="119.5" y2="613.5" stroke="#2a2727" stroke-width="1.05" stroke-linecap="butt"/>
<rect x="107.5" y="600.5" width="16" height="10" fill="#3db54a" stroke="#2a2727" stroke-width="1.05"/>
<line x1="107.05" y1="602.3" x2="123.95" y2="602.3" stroke="#2a2727" stroke-width="1.5" stroke-linecap="butt"/>
<line x1="142.5" y1="551.1" x2="142.5" y2="556.4" stroke="#2a2727" stroke-width="1.05" stroke-linecap="butt"/>
<line x1="138.4" y1="551.5" x2="146.4" y2="551.5" stroke="#2a2727" stroke-width="1.05" stroke-linecap="butt"/>
<line x1="142.5" y1="578.6" x2="142.5" y2="579.4" stroke="#2a2727" stroke-width="1.05" stroke-linecap="butt"/>
<line x1="138.4" y1="579.5" x2="146.4" y2="579.5" stroke="#2a2727" stroke-width="1.05" stroke-linecap="butt"/>
<rect x="134.5" y="556.5" width="16" height="22" fill="#642a7e" stroke="#2a2727" stroke-width="1.05"/>
<line x1="134.05" y1="573.7" x2="150.75" y2="573.7" stroke="#2a2727" stroke-width="1.5" stroke-linecap="butt"/>
<rect x="160.5" y="618.5" width="17" height="1" fill="#222" stroke="#2a2727" stroke-width="1.05"/>
<line x1="130.5" y1="536.3" x2="130.5" y2="621" stroke="#8a8a8a" stroke-width="0.8" stroke-dasharray="1,1.75" stroke-linecap="butt"/>
<text x="64.9" y="631.3" font-size="9" text-anchor="end" transform="rotate(-45 64.9 631.3)" textLength="51.04" lengthAdjust="spacingAndGlyphs" style="stroke:none">Naive &amp; TSCM</text>
<text x="91.5" y="631.3" font-size="9" text-anchor="end" transform="rotate(-45 91.5 631.3)" textLength="55.05" lengthAdjust="spacingAndGlyphs" style="stroke:none">Central memory</text>
<text x="118.1" y="631.3" font-size="9" text-anchor="end" transform="rotate(-45 118.1 631.3)" textLength="34.83" lengthAdjust="spacingAndGlyphs" style="stroke:none">T-memory</text>
<text x="145" y="631.3" font-size="9" text-anchor="end" transform="rotate(-45 145 631.3)" textLength="56.63" lengthAdjust="spacingAndGlyphs" style="stroke:none">Effector memory</text>
<text x="171.4" y="631.3" font-size="9" text-anchor="end" transform="rotate(-45 171.4 631.3)" textLength="57.07" lengthAdjust="spacingAndGlyphs" style="stroke:none">Terminal effector</text>
<line x1="304.5" y1="531.6" x2="304.5" y2="622" stroke="#2a2727" stroke-width="1" stroke-linecap="butt"/>
<line x1="301.8" y1="532.5" x2="304.2" y2="532.5" stroke="#2a2727" stroke-width="1" stroke-linecap="butt"/>
<text x="299.13" y="535.05" font-size="8.2" text-anchor="end" textLength="9.4" lengthAdjust="spacingAndGlyphs" style="stroke:none">40</text>
<line x1="301.8" y1="554.5" x2="304.2" y2="554.5" stroke="#2a2727" stroke-width="1" stroke-linecap="butt"/>
<text x="299.13" y="557.4" font-size="8.2" text-anchor="end" textLength="9.4" lengthAdjust="spacingAndGlyphs" style="stroke:none">30</text>
<line x1="301.8" y1="576.5" x2="304.2" y2="576.5" stroke="#2a2727" stroke-width="1" stroke-linecap="butt"/>
<text x="299.13" y="579.75" font-size="8.2" text-anchor="end" textLength="9.4" lengthAdjust="spacingAndGlyphs" style="stroke:none">20</text>
<line x1="301.8" y1="599.5" x2="304.2" y2="599.5" stroke="#2a2727" stroke-width="1" stroke-linecap="butt"/>
<text x="299.13" y="602.1" font-size="8.2" text-anchor="end" textLength="9.4" lengthAdjust="spacingAndGlyphs" style="stroke:none">10</text>
<line x1="301.8" y1="621.5" x2="304.2" y2="621.5" stroke="#2a2727" stroke-width="1" stroke-linecap="butt"/>
<text x="299.13" y="624.45" font-size="8.2" text-anchor="end" textLength="4.7" lengthAdjust="spacingAndGlyphs" style="stroke:none">0</text>
<text x="284" y="575.8" font-size="9" text-anchor="middle" transform="rotate(-90 284 575.8)" textLength="85.7" lengthAdjust="spacingAndGlyphs" style="stroke:none">Frequency of CD3+ T-cells</text>
<line x1="304.2" y1="621.5" x2="439" y2="621.5" stroke="#2a2727" stroke-width="1" stroke-linecap="butt"/>
<line x1="317.5" y1="621.6" x2="317.5" y2="624.2" stroke="#2a2727" stroke-width="1" stroke-linecap="butt"/>
<line x1="345.5" y1="621.6" x2="345.5" y2="624.2" stroke="#2a2727" stroke-width="1" stroke-linecap="butt"/>
<line x1="371.5" y1="621.6" x2="371.5" y2="624.2" stroke="#2a2727" stroke-width="1" stroke-linecap="butt"/>
<line x1="398.5" y1="621.6" x2="398.5" y2="624.2" stroke="#2a2727" stroke-width="1" stroke-linecap="butt"/>
<line x1="425.5" y1="621.6" x2="425.5" y2="624.2" stroke="#2a2727" stroke-width="1" stroke-linecap="butt"/>
<text x="368.5" y="529.4" font-size="10.4" text-anchor="middle" textLength="58" lengthAdjust="spacingAndGlyphs" style="stroke:none">Duvelisib q3d</text>
<line x1="317.5" y1="614.4" x2="317.5" y2="615.2" stroke="#2a2727" stroke-width="1.05" stroke-linecap="butt"/>
<line x1="313.8" y1="614.5" x2="321.8" y2="614.5" stroke="#2a2727" stroke-width="1.05" stroke-linecap="butt"/>
<line x1="317.5" y1="618.3" x2="317.5" y2="620.6" stroke="#2a2727" stroke-width="1.05" stroke-linecap="butt"/>
<line x1="313.8" y1="620.5" x2="321.8" y2="620.5" stroke="#2a2727" stroke-width="1.05" stroke-linecap="butt"/>
<rect x="309.5" y="615.5" width="17" height="3" fill="#c8102e" stroke="#2a2727" stroke-width="1.05"/>
<line x1="309.4" y1="616.7" x2="326.2" y2="616.7" stroke="#2a2727" stroke-width="1.5" stroke-linecap="butt"/>
<line x1="345.5" y1="596.5" x2="345.5" y2="597.9" stroke="#2a2727" stroke-width="1.05" stroke-linecap="butt"/>
<line x1="341" y1="596.5" x2="349" y2="596.5" stroke="#2a2727" stroke-width="1.05" stroke-linecap="butt"/>
<line x1="345.5" y1="601.7" x2="345.5" y2="603.7" stroke="#2a2727" stroke-width="1.05" stroke-linecap="butt"/>
<line x1="341" y1="603.5" x2="349" y2="603.5" stroke="#2a2727" stroke-width="1.05" stroke-linecap="butt"/>
<rect x="336.5" y="597.5" width="17" height="4" fill="#10508e" stroke="#2a2727" stroke-width="1.05"/>
<line x1="336.6" y1="599.5" x2="353.4" y2="599.5" stroke="#2a2727" stroke-width="1.5" stroke-linecap="butt"/>
<line x1="371.5" y1="556.1" x2="371.5" y2="559.3" stroke="#2a2727" stroke-width="1.05" stroke-linecap="butt"/>
<line x1="367.7" y1="556.5" x2="375.7" y2="556.5" stroke="#2a2727" stroke-width="1.05" stroke-linecap="butt"/>
<line x1="371.5" y1="578.3" x2="371.5" y2="582.5" stroke="#2a2727" stroke-width="1.05" stroke-linecap="butt"/>
<line x1="367.7" y1="582.5" x2="375.7" y2="582.5" stroke="#2a2727" stroke-width="1.05" stroke-linecap="butt"/>
<rect x="363.5" y="559.5" width="16" height="19" fill="#3db54a" stroke="#2a2727" stroke-width="1.05"/>
<line x1="363.5" y1="567.1" x2="379.9" y2="567.1" stroke="#2a2727" stroke-width="1.5" stroke-linecap="butt"/>
<line x1="398.5" y1="567.1" x2="398.5" y2="573.8" stroke="#2a2727" stroke-width="1.05" stroke-linecap="butt"/>
<line x1="394.8" y1="567.5" x2="402.8" y2="567.5" stroke="#2a2727" stroke-width="1.05" stroke-linecap="butt"/>
<line x1="398.5" y1="601.5" x2="398.5" y2="602.4" stroke="#2a2727" stroke-width="1.05" stroke-linecap="butt"/>
<line x1="394.8" y1="602.5" x2="402.8" y2="602.5" stroke="#2a2727" stroke-width="1.05" stroke-linecap="butt"/>
<rect x="390.5" y="573.5" width="17" height="28" fill="#642a7e" stroke="#2a2727" stroke-width="1.05"/>
<line x1="390.35" y1="596.3" x2="407.25" y2="596.3" stroke="#2a2727" stroke-width="1.5" stroke-linecap="butt"/>
<rect x="416.5" y="618.5" width="17" height="1" fill="#222" stroke="#2a2727" stroke-width="1.05"/>
<line x1="385.5" y1="536.4" x2="385.5" y2="621" stroke="#8a8a8a" stroke-width="0.8" stroke-dasharray="1,1.75" stroke-linecap="butt"/>
<text x="320.4" y="631.2" font-size="9" text-anchor="end" transform="rotate(-45 320.4 631.2)" textLength="51.04" lengthAdjust="spacingAndGlyphs" style="stroke:none">Naive &amp; TSCM</text>
<text x="347.6" y="631.2" font-size="9" text-anchor="end" transform="rotate(-45 347.6 631.2)" textLength="55.05" lengthAdjust="spacingAndGlyphs" style="stroke:none">Central memory</text>
<text x="374.3" y="631.2" font-size="9" text-anchor="end" transform="rotate(-45 374.3 631.2)" textLength="34.83" lengthAdjust="spacingAndGlyphs" style="stroke:none">T-memory</text>
<text x="401.4" y="631.2" font-size="9" text-anchor="end" transform="rotate(-45 401.4 631.2)" textLength="56.63" lengthAdjust="spacingAndGlyphs" style="stroke:none">Effector memory</text>
<text x="428" y="631.2" font-size="9" text-anchor="end" transform="rotate(-45 428 631.2)" textLength="57.07" lengthAdjust="spacingAndGlyphs" style="stroke:none">Terminal effector</text>
</svg>
</body></html>
